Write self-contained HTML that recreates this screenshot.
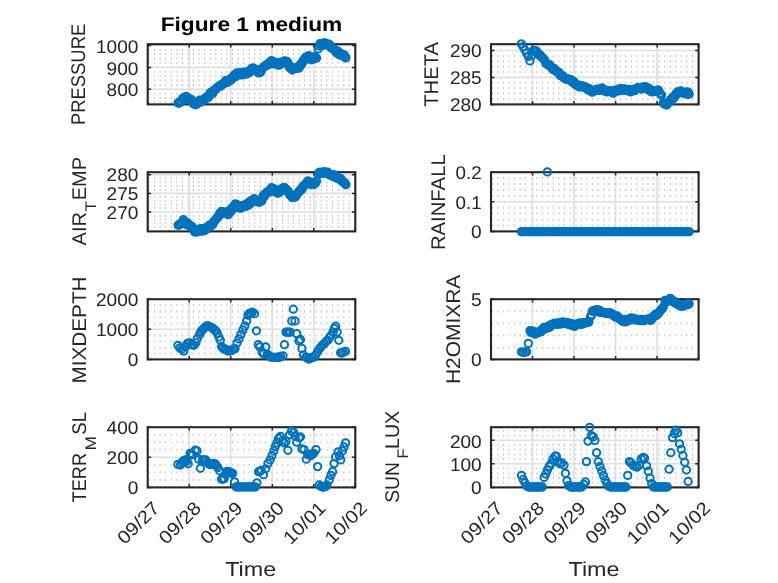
<!DOCTYPE html>
<html><head><meta charset="utf-8"><title>Figure 1 medium</title>
<style>html,body{margin:0;padding:0;background:#fff}body{width:778px;height:583px;overflow:hidden}</style></head>
<body>
<svg width="778" height="583" viewBox="0 0 778 583" style="display:block;will-change:transform;text-rendering:geometricPrecision;font-family:'Liberation Sans',sans-serif">
<rect width="778" height="583" fill="#fff"/>
<path d="M149.1 48.9v2M149.1 53.3v2M149.1 57.6v2M149.1 62.0v2M149.1 70.8v2M149.1 75.2v2M149.1 79.5v2M149.1 83.9v2M149.1 92.7v2M149.1 97.1v2M149.1 101.4v2M154.6 48.9v2M154.6 53.3v2M154.6 57.6v2M154.6 62.0v2M154.6 70.8v2M154.6 75.2v2M154.6 79.5v2M154.6 83.9v2M154.6 92.7v2M154.6 97.1v2M154.6 101.4v2M160.2 48.9v2M160.2 53.3v2M160.2 57.6v2M160.2 62.0v2M160.2 70.8v2M160.2 75.2v2M160.2 79.5v2M160.2 83.9v2M160.2 92.7v2M160.2 97.1v2M160.2 101.4v2M165.7 48.9v2M165.7 53.3v2M165.7 57.6v2M165.7 62.0v2M165.7 70.8v2M165.7 75.2v2M165.7 79.5v2M165.7 83.9v2M165.7 92.7v2M165.7 97.1v2M165.7 101.4v2M171.3 48.9v2M171.3 53.3v2M171.3 57.6v2M171.3 62.0v2M171.3 70.8v2M171.3 75.2v2M171.3 79.5v2M171.3 83.9v2M171.3 92.7v2M171.3 97.1v2M171.3 101.4v2M176.9 48.9v2M176.9 53.3v2M176.9 57.6v2M176.9 62.0v2M176.9 70.8v2M176.9 75.2v2M176.9 79.5v2M176.9 83.9v2M176.9 92.7v2M176.9 97.1v2M176.9 101.4v2M182.4 48.9v2M182.4 53.3v2M182.4 57.6v2M182.4 62.0v2M182.4 70.8v2M182.4 75.2v2M182.4 79.5v2M182.4 83.9v2M182.4 92.7v2M182.4 97.1v2M182.4 101.4v2M188.0 48.9v2M188.0 53.3v2M188.0 57.6v2M188.0 62.0v2M188.0 70.8v2M188.0 75.2v2M188.0 79.5v2M188.0 83.9v2M188.0 92.7v2M188.0 97.1v2M188.0 101.4v2M193.5 48.9v2M193.5 53.3v2M193.5 57.6v2M193.5 62.0v2M193.5 70.8v2M193.5 75.2v2M193.5 79.5v2M193.5 83.9v2M193.5 92.7v2M193.5 97.1v2M193.5 101.4v2M199.1 48.9v2M199.1 53.3v2M199.1 57.6v2M199.1 62.0v2M199.1 70.8v2M199.1 75.2v2M199.1 79.5v2M199.1 83.9v2M199.1 92.7v2M199.1 97.1v2M199.1 101.4v2M204.7 48.9v2M204.7 53.3v2M204.7 57.6v2M204.7 62.0v2M204.7 70.8v2M204.7 75.2v2M204.7 79.5v2M204.7 83.9v2M204.7 92.7v2M204.7 97.1v2M204.7 101.4v2M210.2 48.9v2M210.2 53.3v2M210.2 57.6v2M210.2 62.0v2M210.2 70.8v2M210.2 75.2v2M210.2 79.5v2M210.2 83.9v2M210.2 92.7v2M210.2 97.1v2M210.2 101.4v2M215.8 48.9v2M215.8 53.3v2M215.8 57.6v2M215.8 62.0v2M215.8 70.8v2M215.8 75.2v2M215.8 79.5v2M215.8 83.9v2M215.8 92.7v2M215.8 97.1v2M215.8 101.4v2M221.3 48.9v2M221.3 53.3v2M221.3 57.6v2M221.3 62.0v2M221.3 70.8v2M221.3 75.2v2M221.3 79.5v2M221.3 83.9v2M221.3 92.7v2M221.3 97.1v2M221.3 101.4v2M226.9 48.9v2M226.9 53.3v2M226.9 57.6v2M226.9 62.0v2M226.9 70.8v2M226.9 75.2v2M226.9 79.5v2M226.9 83.9v2M226.9 92.7v2M226.9 97.1v2M226.9 101.4v2M232.5 48.9v2M232.5 53.3v2M232.5 57.6v2M232.5 62.0v2M232.5 70.8v2M232.5 75.2v2M232.5 79.5v2M232.5 83.9v2M232.5 92.7v2M232.5 97.1v2M232.5 101.4v2M238.0 48.9v2M238.0 53.3v2M238.0 57.6v2M238.0 62.0v2M238.0 70.8v2M238.0 75.2v2M238.0 79.5v2M238.0 83.9v2M238.0 92.7v2M238.0 97.1v2M238.0 101.4v2M243.6 48.9v2M243.6 53.3v2M243.6 57.6v2M243.6 62.0v2M243.6 70.8v2M243.6 75.2v2M243.6 79.5v2M243.6 83.9v2M243.6 92.7v2M243.6 97.1v2M243.6 101.4v2M249.1 48.9v2M249.1 53.3v2M249.1 57.6v2M249.1 62.0v2M249.1 70.8v2M249.1 75.2v2M249.1 79.5v2M249.1 83.9v2M249.1 92.7v2M249.1 97.1v2M249.1 101.4v2M254.7 48.9v2M254.7 53.3v2M254.7 57.6v2M254.7 62.0v2M254.7 70.8v2M254.7 75.2v2M254.7 79.5v2M254.7 83.9v2M254.7 92.7v2M254.7 97.1v2M254.7 101.4v2M260.3 48.9v2M260.3 53.3v2M260.3 57.6v2M260.3 62.0v2M260.3 70.8v2M260.3 75.2v2M260.3 79.5v2M260.3 83.9v2M260.3 92.7v2M260.3 97.1v2M260.3 101.4v2M265.8 48.9v2M265.8 53.3v2M265.8 57.6v2M265.8 62.0v2M265.8 70.8v2M265.8 75.2v2M265.8 79.5v2M265.8 83.9v2M265.8 92.7v2M265.8 97.1v2M265.8 101.4v2M271.4 48.9v2M271.4 53.3v2M271.4 57.6v2M271.4 62.0v2M271.4 70.8v2M271.4 75.2v2M271.4 79.5v2M271.4 83.9v2M271.4 92.7v2M271.4 97.1v2M271.4 101.4v2M276.9 48.9v2M276.9 53.3v2M276.9 57.6v2M276.9 62.0v2M276.9 70.8v2M276.9 75.2v2M276.9 79.5v2M276.9 83.9v2M276.9 92.7v2M276.9 97.1v2M276.9 101.4v2M282.5 48.9v2M282.5 53.3v2M282.5 57.6v2M282.5 62.0v2M282.5 70.8v2M282.5 75.2v2M282.5 79.5v2M282.5 83.9v2M282.5 92.7v2M282.5 97.1v2M282.5 101.4v2M288.1 48.9v2M288.1 53.3v2M288.1 57.6v2M288.1 62.0v2M288.1 70.8v2M288.1 75.2v2M288.1 79.5v2M288.1 83.9v2M288.1 92.7v2M288.1 97.1v2M288.1 101.4v2M293.6 48.9v2M293.6 53.3v2M293.6 57.6v2M293.6 62.0v2M293.6 70.8v2M293.6 75.2v2M293.6 79.5v2M293.6 83.9v2M293.6 92.7v2M293.6 97.1v2M293.6 101.4v2M299.2 48.9v2M299.2 53.3v2M299.2 57.6v2M299.2 62.0v2M299.2 70.8v2M299.2 75.2v2M299.2 79.5v2M299.2 83.9v2M299.2 92.7v2M299.2 97.1v2M299.2 101.4v2M304.7 48.9v2M304.7 53.3v2M304.7 57.6v2M304.7 62.0v2M304.7 70.8v2M304.7 75.2v2M304.7 79.5v2M304.7 83.9v2M304.7 92.7v2M304.7 97.1v2M304.7 101.4v2M310.3 48.9v2M310.3 53.3v2M310.3 57.6v2M310.3 62.0v2M310.3 70.8v2M310.3 75.2v2M310.3 79.5v2M310.3 83.9v2M310.3 92.7v2M310.3 97.1v2M310.3 101.4v2M315.9 48.9v2M315.9 53.3v2M315.9 57.6v2M315.9 62.0v2M315.9 70.8v2M315.9 75.2v2M315.9 79.5v2M315.9 83.9v2M315.9 92.7v2M315.9 97.1v2M315.9 101.4v2M321.4 48.9v2M321.4 53.3v2M321.4 57.6v2M321.4 62.0v2M321.4 70.8v2M321.4 75.2v2M321.4 79.5v2M321.4 83.9v2M321.4 92.7v2M321.4 97.1v2M321.4 101.4v2M327.0 48.9v2M327.0 53.3v2M327.0 57.6v2M327.0 62.0v2M327.0 70.8v2M327.0 75.2v2M327.0 79.5v2M327.0 83.9v2M327.0 92.7v2M327.0 97.1v2M327.0 101.4v2M332.5 48.9v2M332.5 53.3v2M332.5 57.6v2M332.5 62.0v2M332.5 70.8v2M332.5 75.2v2M332.5 79.5v2M332.5 83.9v2M332.5 92.7v2M332.5 97.1v2M332.5 101.4v2M338.1 48.9v2M338.1 53.3v2M338.1 57.6v2M338.1 62.0v2M338.1 70.8v2M338.1 75.2v2M338.1 79.5v2M338.1 83.9v2M338.1 92.7v2M338.1 97.1v2M338.1 101.4v2M343.7 48.9v2M343.7 53.3v2M343.7 57.6v2M343.7 62.0v2M343.7 70.8v2M343.7 75.2v2M343.7 79.5v2M343.7 83.9v2M343.7 92.7v2M343.7 97.1v2M343.7 101.4v2M349.2 48.9v2M349.2 53.3v2M349.2 57.6v2M349.2 62.0v2M349.2 70.8v2M349.2 75.2v2M349.2 79.5v2M349.2 83.9v2M349.2 92.7v2M349.2 97.1v2M349.2 101.4v2" stroke="#c6c6c6" stroke-width="1.1" fill="none"/>
<path d="M189.2 44.2V104.4M230.7 44.2V104.4M272.3 44.2V104.4M313.8 44.2V104.4M147.7 45.5H355.3M147.7 67.4H355.3M147.7 89.3H355.3" stroke="#dedede" stroke-width="1.6" fill="none"/>
<rect x="147.7" y="44.2" width="207.6" height="60.2" fill="none" stroke="#262626" stroke-width="2.1"/>
<path d="M147.7 104.4v-3.4M147.7 44.2v3.4M189.2 104.4v-3.4M189.2 44.2v3.4M230.7 104.4v-3.4M230.7 44.2v3.4M272.3 104.4v-3.4M272.3 44.2v3.4M313.8 104.4v-3.4M313.8 44.2v3.4M355.3 104.4v-3.4M355.3 44.2v3.4M147.7 45.5h3.4M355.3 45.5h-3.4M147.7 67.4h3.4M355.3 67.4h-3.4M147.7 89.3h3.4M355.3 89.3h-3.4" stroke="#262626" stroke-width="1.5" fill="none"/>
<text x="138.4" y="53.0" text-anchor="end" font-size="18.4" fill="#262626" textLength="42.4" lengthAdjust="spacingAndGlyphs">1000</text>
<text x="138.4" y="74.7" text-anchor="end" font-size="18.4" fill="#262626" textLength="31.8" lengthAdjust="spacingAndGlyphs">900</text>
<text x="138.4" y="96.4" text-anchor="end" font-size="18.4" fill="#262626" textLength="31.8" lengthAdjust="spacingAndGlyphs">800</text>
<g fill="none" stroke="#0072BD" stroke-width="2.0"><circle cx="178.1" cy="102.9" r="3.65"/><circle cx="179.0" cy="103.1" r="3.65"/><circle cx="179.8" cy="101.9" r="3.65"/><circle cx="180.7" cy="101.9" r="3.65"/><circle cx="181.6" cy="101.2" r="3.65"/><circle cx="182.4" cy="98.8" r="3.65"/><circle cx="183.3" cy="98.0" r="3.65"/><circle cx="184.2" cy="99.7" r="3.65"/><circle cx="185.0" cy="97.3" r="3.65"/><circle cx="185.9" cy="96.5" r="3.65"/><circle cx="186.8" cy="98.1" r="3.65"/><circle cx="187.6" cy="97.3" r="3.65"/><circle cx="188.5" cy="99.1" r="3.65"/><circle cx="189.3" cy="98.8" r="3.65"/><circle cx="190.2" cy="100.1" r="3.65"/><circle cx="191.1" cy="99.4" r="3.65"/><circle cx="191.9" cy="101.6" r="3.65"/><circle cx="192.8" cy="103.1" r="3.65"/><circle cx="193.7" cy="102.8" r="3.65"/><circle cx="194.5" cy="104.3" r="3.65"/><circle cx="195.4" cy="104.8" r="3.65"/><circle cx="196.3" cy="102.4" r="3.65"/><circle cx="197.1" cy="104.0" r="3.65"/><circle cx="198.0" cy="102.9" r="3.65"/><circle cx="198.9" cy="101.5" r="3.65"/><circle cx="199.7" cy="100.1" r="3.65"/><circle cx="200.6" cy="102.1" r="3.65"/><circle cx="201.5" cy="100.4" r="3.65"/><circle cx="202.3" cy="100.6" r="3.65"/><circle cx="203.2" cy="100.5" r="3.65"/><circle cx="204.1" cy="99.4" r="3.65"/><circle cx="204.9" cy="99.5" r="3.65"/><circle cx="205.8" cy="97.4" r="3.65"/><circle cx="206.6" cy="98.1" r="3.65"/><circle cx="207.5" cy="96.4" r="3.65"/><circle cx="208.4" cy="97.1" r="3.65"/><circle cx="209.2" cy="96.2" r="3.65"/><circle cx="210.1" cy="93.1" r="3.65"/><circle cx="211.0" cy="92.4" r="3.65"/><circle cx="211.8" cy="91.9" r="3.65"/><circle cx="212.7" cy="93.4" r="3.65"/><circle cx="213.6" cy="91.0" r="3.65"/><circle cx="214.4" cy="90.8" r="3.65"/><circle cx="215.3" cy="89.1" r="3.65"/><circle cx="216.2" cy="88.9" r="3.65"/><circle cx="217.0" cy="87.8" r="3.65"/><circle cx="217.9" cy="86.9" r="3.65"/><circle cx="218.8" cy="86.8" r="3.65"/><circle cx="219.6" cy="86.0" r="3.65"/><circle cx="220.5" cy="86.1" r="3.65"/><circle cx="221.3" cy="84.6" r="3.65"/><circle cx="222.2" cy="84.6" r="3.65"/><circle cx="223.1" cy="83.6" r="3.65"/><circle cx="223.9" cy="83.6" r="3.65"/><circle cx="224.8" cy="82.4" r="3.65"/><circle cx="225.7" cy="80.5" r="3.65"/><circle cx="226.5" cy="82.3" r="3.65"/><circle cx="227.4" cy="82.3" r="3.65"/><circle cx="228.3" cy="81.8" r="3.65"/><circle cx="229.1" cy="80.4" r="3.65"/><circle cx="230.0" cy="80.5" r="3.65"/><circle cx="230.9" cy="78.3" r="3.65"/><circle cx="231.7" cy="79.4" r="3.65"/><circle cx="232.6" cy="77.9" r="3.65"/><circle cx="233.5" cy="76.4" r="3.65"/><circle cx="234.3" cy="75.0" r="3.65"/><circle cx="235.2" cy="76.6" r="3.65"/><circle cx="236.1" cy="76.3" r="3.65"/><circle cx="236.9" cy="72.9" r="3.65"/><circle cx="237.8" cy="74.9" r="3.65"/><circle cx="238.7" cy="73.7" r="3.65"/><circle cx="239.5" cy="72.9" r="3.65"/><circle cx="240.4" cy="73.2" r="3.65"/><circle cx="241.2" cy="74.6" r="3.65"/><circle cx="242.1" cy="74.9" r="3.65"/><circle cx="243.0" cy="72.3" r="3.65"/><circle cx="243.8" cy="74.0" r="3.65"/><circle cx="244.7" cy="72.2" r="3.65"/><circle cx="245.6" cy="74.2" r="3.65"/><circle cx="246.4" cy="72.4" r="3.65"/><circle cx="247.3" cy="73.5" r="3.65"/><circle cx="248.2" cy="73.3" r="3.65"/><circle cx="249.0" cy="71.3" r="3.65"/><circle cx="249.9" cy="72.2" r="3.65"/><circle cx="250.8" cy="69.6" r="3.65"/><circle cx="251.6" cy="68.3" r="3.65"/><circle cx="252.5" cy="69.3" r="3.65"/><circle cx="253.4" cy="68.0" r="3.65"/><circle cx="254.2" cy="68.9" r="3.65"/><circle cx="255.1" cy="69.9" r="3.65"/><circle cx="255.9" cy="70.9" r="3.65"/><circle cx="256.8" cy="70.0" r="3.65"/><circle cx="257.7" cy="70.0" r="3.65"/><circle cx="258.5" cy="72.9" r="3.65"/><circle cx="259.4" cy="71.6" r="3.65"/><circle cx="260.3" cy="72.5" r="3.65"/><circle cx="261.1" cy="71.3" r="3.65"/><circle cx="262.0" cy="68.7" r="3.65"/><circle cx="262.9" cy="67.9" r="3.65"/><circle cx="263.7" cy="67.0" r="3.65"/><circle cx="264.6" cy="66.3" r="3.65"/><circle cx="265.5" cy="65.6" r="3.65"/><circle cx="266.3" cy="65.0" r="3.65"/><circle cx="267.2" cy="64.6" r="3.65"/><circle cx="268.1" cy="65.0" r="3.65"/><circle cx="268.9" cy="63.1" r="3.65"/><circle cx="269.8" cy="62.3" r="3.65"/><circle cx="270.7" cy="62.6" r="3.65"/><circle cx="271.5" cy="60.6" r="3.65"/><circle cx="272.4" cy="61.3" r="3.65"/><circle cx="273.2" cy="63.8" r="3.65"/><circle cx="274.1" cy="62.9" r="3.65"/><circle cx="275.0" cy="63.4" r="3.65"/><circle cx="275.8" cy="62.3" r="3.65"/><circle cx="276.7" cy="64.0" r="3.65"/><circle cx="277.6" cy="65.0" r="3.65"/><circle cx="278.4" cy="63.8" r="3.65"/><circle cx="279.3" cy="65.0" r="3.65"/><circle cx="280.2" cy="64.5" r="3.65"/><circle cx="281.0" cy="62.2" r="3.65"/><circle cx="281.9" cy="63.3" r="3.65"/><circle cx="282.8" cy="62.3" r="3.65"/><circle cx="283.6" cy="62.4" r="3.65"/><circle cx="284.5" cy="60.8" r="3.65"/><circle cx="285.4" cy="61.3" r="3.65"/><circle cx="286.2" cy="62.5" r="3.65"/><circle cx="287.1" cy="61.5" r="3.65"/><circle cx="288.0" cy="62.8" r="3.65"/><circle cx="288.8" cy="65.7" r="3.65"/><circle cx="289.7" cy="67.7" r="3.65"/><circle cx="290.6" cy="66.7" r="3.65"/><circle cx="291.4" cy="68.4" r="3.65"/><circle cx="292.3" cy="70.0" r="3.65"/><circle cx="293.1" cy="68.8" r="3.65"/><circle cx="294.0" cy="68.7" r="3.65"/><circle cx="294.9" cy="68.2" r="3.65"/><circle cx="295.7" cy="68.1" r="3.65"/><circle cx="296.6" cy="68.4" r="3.65"/><circle cx="297.5" cy="67.2" r="3.65"/><circle cx="298.3" cy="67.1" r="3.65"/><circle cx="299.2" cy="68.0" r="3.65"/><circle cx="300.1" cy="64.5" r="3.65"/><circle cx="300.9" cy="64.8" r="3.65"/><circle cx="301.8" cy="64.1" r="3.65"/><circle cx="302.7" cy="61.5" r="3.65"/><circle cx="303.5" cy="60.0" r="3.65"/><circle cx="304.4" cy="60.4" r="3.65"/><circle cx="305.3" cy="57.9" r="3.65"/><circle cx="306.1" cy="56.9" r="3.65"/><circle cx="307.0" cy="56.8" r="3.65"/><circle cx="307.9" cy="56.8" r="3.65"/><circle cx="308.7" cy="55.7" r="3.65"/><circle cx="309.6" cy="57.0" r="3.65"/><circle cx="310.4" cy="57.7" r="3.65"/><circle cx="311.3" cy="59.8" r="3.65"/><circle cx="312.2" cy="58.3" r="3.65"/><circle cx="313.0" cy="59.2" r="3.65"/><circle cx="313.9" cy="56.9" r="3.65"/><circle cx="314.8" cy="57.0" r="3.65"/><circle cx="315.6" cy="57.7" r="3.65"/><circle cx="316.5" cy="58.1" r="3.65"/><circle cx="318.2" cy="48.9" r="3.65"/><circle cx="319.1" cy="46.0" r="3.65"/><circle cx="320.0" cy="43.6" r="3.65"/><circle cx="320.8" cy="44.6" r="3.65"/><circle cx="321.7" cy="43.4" r="3.65"/><circle cx="322.6" cy="45.1" r="3.65"/><circle cx="323.4" cy="45.1" r="3.65"/><circle cx="324.3" cy="42.9" r="3.65"/><circle cx="325.1" cy="43.1" r="3.65"/><circle cx="326.0" cy="44.5" r="3.65"/><circle cx="326.9" cy="43.8" r="3.65"/><circle cx="327.7" cy="45.1" r="3.65"/><circle cx="328.6" cy="44.4" r="3.65"/><circle cx="329.5" cy="44.5" r="3.65"/><circle cx="330.3" cy="45.8" r="3.65"/><circle cx="331.2" cy="48.0" r="3.65"/><circle cx="332.1" cy="47.2" r="3.65"/><circle cx="332.9" cy="48.2" r="3.65"/><circle cx="333.8" cy="49.2" r="3.65"/><circle cx="334.7" cy="49.9" r="3.65"/><circle cx="335.5" cy="50.6" r="3.65"/><circle cx="336.4" cy="52.9" r="3.65"/><circle cx="337.3" cy="51.4" r="3.65"/><circle cx="338.1" cy="51.2" r="3.65"/><circle cx="339.0" cy="54.4" r="3.65"/><circle cx="339.9" cy="54.5" r="3.65"/><circle cx="340.7" cy="55.1" r="3.65"/><circle cx="341.6" cy="53.8" r="3.65"/><circle cx="342.5" cy="55.7" r="3.65"/><circle cx="343.3" cy="56.2" r="3.65"/><circle cx="344.2" cy="54.8" r="3.65"/><circle cx="345.0" cy="57.0" r="3.65"/><circle cx="345.9" cy="57.9" r="3.65"/></g>
<path d="M492.4 54.9v2M492.4 60.3v2M492.4 65.6v2M492.4 71.0v2M492.4 81.8v2M492.4 87.2v2M492.4 92.5v2M492.4 97.9v2M497.9 54.9v2M497.9 60.3v2M497.9 65.6v2M497.9 71.0v2M497.9 81.8v2M497.9 87.2v2M497.9 92.5v2M497.9 97.9v2M503.5 54.9v2M503.5 60.3v2M503.5 65.6v2M503.5 71.0v2M503.5 81.8v2M503.5 87.2v2M503.5 92.5v2M503.5 97.9v2M509.0 54.9v2M509.0 60.3v2M509.0 65.6v2M509.0 71.0v2M509.0 81.8v2M509.0 87.2v2M509.0 92.5v2M509.0 97.9v2M514.6 54.9v2M514.6 60.3v2M514.6 65.6v2M514.6 71.0v2M514.6 81.8v2M514.6 87.2v2M514.6 92.5v2M514.6 97.9v2M520.2 54.9v2M520.2 60.3v2M520.2 65.6v2M520.2 71.0v2M520.2 81.8v2M520.2 87.2v2M520.2 92.5v2M520.2 97.9v2M525.7 54.9v2M525.7 60.3v2M525.7 65.6v2M525.7 71.0v2M525.7 81.8v2M525.7 87.2v2M525.7 92.5v2M525.7 97.9v2M531.3 54.9v2M531.3 60.3v2M531.3 65.6v2M531.3 71.0v2M531.3 81.8v2M531.3 87.2v2M531.3 92.5v2M531.3 97.9v2M536.8 54.9v2M536.8 60.3v2M536.8 65.6v2M536.8 71.0v2M536.8 81.8v2M536.8 87.2v2M536.8 92.5v2M536.8 97.9v2M542.4 54.9v2M542.4 60.3v2M542.4 65.6v2M542.4 71.0v2M542.4 81.8v2M542.4 87.2v2M542.4 92.5v2M542.4 97.9v2M548.0 54.9v2M548.0 60.3v2M548.0 65.6v2M548.0 71.0v2M548.0 81.8v2M548.0 87.2v2M548.0 92.5v2M548.0 97.9v2M553.5 54.9v2M553.5 60.3v2M553.5 65.6v2M553.5 71.0v2M553.5 81.8v2M553.5 87.2v2M553.5 92.5v2M553.5 97.9v2M559.1 54.9v2M559.1 60.3v2M559.1 65.6v2M559.1 71.0v2M559.1 81.8v2M559.1 87.2v2M559.1 92.5v2M559.1 97.9v2M564.6 54.9v2M564.6 60.3v2M564.6 65.6v2M564.6 71.0v2M564.6 81.8v2M564.6 87.2v2M564.6 92.5v2M564.6 97.9v2M570.2 54.9v2M570.2 60.3v2M570.2 65.6v2M570.2 71.0v2M570.2 81.8v2M570.2 87.2v2M570.2 92.5v2M570.2 97.9v2M575.8 54.9v2M575.8 60.3v2M575.8 65.6v2M575.8 71.0v2M575.8 81.8v2M575.8 87.2v2M575.8 92.5v2M575.8 97.9v2M581.3 54.9v2M581.3 60.3v2M581.3 65.6v2M581.3 71.0v2M581.3 81.8v2M581.3 87.2v2M581.3 92.5v2M581.3 97.9v2M586.9 54.9v2M586.9 60.3v2M586.9 65.6v2M586.9 71.0v2M586.9 81.8v2M586.9 87.2v2M586.9 92.5v2M586.9 97.9v2M592.4 54.9v2M592.4 60.3v2M592.4 65.6v2M592.4 71.0v2M592.4 81.8v2M592.4 87.2v2M592.4 92.5v2M592.4 97.9v2M598.0 54.9v2M598.0 60.3v2M598.0 65.6v2M598.0 71.0v2M598.0 81.8v2M598.0 87.2v2M598.0 92.5v2M598.0 97.9v2M603.6 54.9v2M603.6 60.3v2M603.6 65.6v2M603.6 71.0v2M603.6 81.8v2M603.6 87.2v2M603.6 92.5v2M603.6 97.9v2M609.1 54.9v2M609.1 60.3v2M609.1 65.6v2M609.1 71.0v2M609.1 81.8v2M609.1 87.2v2M609.1 92.5v2M609.1 97.9v2M614.7 54.9v2M614.7 60.3v2M614.7 65.6v2M614.7 71.0v2M614.7 81.8v2M614.7 87.2v2M614.7 92.5v2M614.7 97.9v2M620.2 54.9v2M620.2 60.3v2M620.2 65.6v2M620.2 71.0v2M620.2 81.8v2M620.2 87.2v2M620.2 92.5v2M620.2 97.9v2M625.8 54.9v2M625.8 60.3v2M625.8 65.6v2M625.8 71.0v2M625.8 81.8v2M625.8 87.2v2M625.8 92.5v2M625.8 97.9v2M631.4 54.9v2M631.4 60.3v2M631.4 65.6v2M631.4 71.0v2M631.4 81.8v2M631.4 87.2v2M631.4 92.5v2M631.4 97.9v2M636.9 54.9v2M636.9 60.3v2M636.9 65.6v2M636.9 71.0v2M636.9 81.8v2M636.9 87.2v2M636.9 92.5v2M636.9 97.9v2M642.5 54.9v2M642.5 60.3v2M642.5 65.6v2M642.5 71.0v2M642.5 81.8v2M642.5 87.2v2M642.5 92.5v2M642.5 97.9v2M648.0 54.9v2M648.0 60.3v2M648.0 65.6v2M648.0 71.0v2M648.0 81.8v2M648.0 87.2v2M648.0 92.5v2M648.0 97.9v2M653.6 54.9v2M653.6 60.3v2M653.6 65.6v2M653.6 71.0v2M653.6 81.8v2M653.6 87.2v2M653.6 92.5v2M653.6 97.9v2M659.2 54.9v2M659.2 60.3v2M659.2 65.6v2M659.2 71.0v2M659.2 81.8v2M659.2 87.2v2M659.2 92.5v2M659.2 97.9v2M664.7 54.9v2M664.7 60.3v2M664.7 65.6v2M664.7 71.0v2M664.7 81.8v2M664.7 87.2v2M664.7 92.5v2M664.7 97.9v2M670.3 54.9v2M670.3 60.3v2M670.3 65.6v2M670.3 71.0v2M670.3 81.8v2M670.3 87.2v2M670.3 92.5v2M670.3 97.9v2M675.8 54.9v2M675.8 60.3v2M675.8 65.6v2M675.8 71.0v2M675.8 81.8v2M675.8 87.2v2M675.8 92.5v2M675.8 97.9v2M681.4 54.9v2M681.4 60.3v2M681.4 65.6v2M681.4 71.0v2M681.4 81.8v2M681.4 87.2v2M681.4 92.5v2M681.4 97.9v2M687.0 54.9v2M687.0 60.3v2M687.0 65.6v2M687.0 71.0v2M687.0 81.8v2M687.0 87.2v2M687.0 92.5v2M687.0 97.9v2M692.5 54.9v2M692.5 60.3v2M692.5 65.6v2M692.5 71.0v2M692.5 81.8v2M692.5 87.2v2M692.5 92.5v2M692.5 97.9v2" stroke="#c6c6c6" stroke-width="1.1" fill="none"/>
<path d="M532.5 44.2V104.4M574.0 44.2V104.4M615.6 44.2V104.4M657.1 44.2V104.4M491.0 50.5H698.6M491.0 77.4H698.6" stroke="#dedede" stroke-width="1.6" fill="none"/>
<rect x="491.0" y="44.2" width="207.6" height="60.2" fill="none" stroke="#262626" stroke-width="2.1"/>
<path d="M491.0 104.4v-3.4M491.0 44.2v3.4M532.5 104.4v-3.4M532.5 44.2v3.4M574.0 104.4v-3.4M574.0 44.2v3.4M615.6 104.4v-3.4M615.6 44.2v3.4M657.1 104.4v-3.4M657.1 44.2v3.4M698.6 104.4v-3.4M698.6 44.2v3.4M491.0 50.5h3.4M698.6 50.5h-3.4M491.0 77.4h3.4M698.6 77.4h-3.4M491.0 104.4h3.4M698.6 104.4h-3.4" stroke="#262626" stroke-width="1.5" fill="none"/>
<text x="481.7" y="57.4" text-anchor="end" font-size="18.4" fill="#262626" textLength="31.8" lengthAdjust="spacingAndGlyphs">290</text>
<text x="481.7" y="84.3" text-anchor="end" font-size="18.4" fill="#262626" textLength="31.8" lengthAdjust="spacingAndGlyphs">285</text>
<text x="481.7" y="111.3" text-anchor="end" font-size="18.4" fill="#262626" textLength="31.8" lengthAdjust="spacingAndGlyphs">280</text>
<g fill="none" stroke="#0072BD" stroke-width="2.0"><circle cx="521.4" cy="43.9" r="3.65"/><circle cx="523.1" cy="46.7" r="3.65"/><circle cx="524.9" cy="50.0" r="3.65"/><circle cx="526.6" cy="53.2" r="3.65"/><circle cx="528.3" cy="56.4" r="3.65"/><circle cx="530.0" cy="60.9" r="3.65"/><circle cx="531.8" cy="55.5" r="3.65"/><circle cx="533.5" cy="50.3" r="3.65"/><circle cx="534.4" cy="51.1" r="3.65"/><circle cx="535.2" cy="50.8" r="3.65"/><circle cx="536.1" cy="50.8" r="3.65"/><circle cx="537.0" cy="51.7" r="3.65"/><circle cx="537.8" cy="53.8" r="3.65"/><circle cx="538.7" cy="54.5" r="3.65"/><circle cx="539.6" cy="55.3" r="3.65"/><circle cx="540.4" cy="55.1" r="3.65"/><circle cx="541.3" cy="56.9" r="3.65"/><circle cx="542.2" cy="57.4" r="3.65"/><circle cx="543.0" cy="58.2" r="3.65"/><circle cx="543.9" cy="59.2" r="3.65"/><circle cx="544.8" cy="60.5" r="3.65"/><circle cx="545.6" cy="63.1" r="3.65"/><circle cx="546.5" cy="63.6" r="3.65"/><circle cx="547.4" cy="64.3" r="3.65"/><circle cx="548.2" cy="65.0" r="3.65"/><circle cx="549.1" cy="64.4" r="3.65"/><circle cx="549.9" cy="65.4" r="3.65"/><circle cx="550.8" cy="66.8" r="3.65"/><circle cx="551.7" cy="67.8" r="3.65"/><circle cx="552.5" cy="68.8" r="3.65"/><circle cx="553.4" cy="69.6" r="3.65"/><circle cx="554.3" cy="68.5" r="3.65"/><circle cx="555.1" cy="70.4" r="3.65"/><circle cx="556.0" cy="71.3" r="3.65"/><circle cx="556.9" cy="71.6" r="3.65"/><circle cx="557.7" cy="71.6" r="3.65"/><circle cx="558.6" cy="73.0" r="3.65"/><circle cx="559.5" cy="72.9" r="3.65"/><circle cx="560.3" cy="75.4" r="3.65"/><circle cx="561.2" cy="75.9" r="3.65"/><circle cx="562.1" cy="75.8" r="3.65"/><circle cx="562.9" cy="75.9" r="3.65"/><circle cx="563.8" cy="77.9" r="3.65"/><circle cx="564.6" cy="77.8" r="3.65"/><circle cx="565.5" cy="78.8" r="3.65"/><circle cx="566.4" cy="79.2" r="3.65"/><circle cx="567.2" cy="78.8" r="3.65"/><circle cx="568.1" cy="79.0" r="3.65"/><circle cx="569.0" cy="79.8" r="3.65"/><circle cx="569.8" cy="79.8" r="3.65"/><circle cx="570.7" cy="79.7" r="3.65"/><circle cx="571.6" cy="80.4" r="3.65"/><circle cx="572.4" cy="82.2" r="3.65"/><circle cx="573.3" cy="81.3" r="3.65"/><circle cx="574.2" cy="82.1" r="3.65"/><circle cx="575.0" cy="84.1" r="3.65"/><circle cx="575.9" cy="84.1" r="3.65"/><circle cx="576.8" cy="85.4" r="3.65"/><circle cx="577.6" cy="85.4" r="3.65"/><circle cx="578.5" cy="85.4" r="3.65"/><circle cx="579.4" cy="87.0" r="3.65"/><circle cx="580.2" cy="85.4" r="3.65"/><circle cx="581.1" cy="86.1" r="3.65"/><circle cx="581.9" cy="85.8" r="3.65"/><circle cx="582.8" cy="87.0" r="3.65"/><circle cx="583.7" cy="86.4" r="3.65"/><circle cx="584.5" cy="86.8" r="3.65"/><circle cx="585.4" cy="87.8" r="3.65"/><circle cx="586.3" cy="87.5" r="3.65"/><circle cx="587.1" cy="88.6" r="3.65"/><circle cx="588.0" cy="89.9" r="3.65"/><circle cx="588.9" cy="88.7" r="3.65"/><circle cx="589.7" cy="89.1" r="3.65"/><circle cx="590.6" cy="90.1" r="3.65"/><circle cx="591.5" cy="91.8" r="3.65"/><circle cx="592.3" cy="92.1" r="3.65"/><circle cx="593.2" cy="90.9" r="3.65"/><circle cx="594.1" cy="90.8" r="3.65"/><circle cx="594.9" cy="90.1" r="3.65"/><circle cx="595.8" cy="90.4" r="3.65"/><circle cx="596.7" cy="89.2" r="3.65"/><circle cx="597.5" cy="90.3" r="3.65"/><circle cx="598.4" cy="90.4" r="3.65"/><circle cx="599.2" cy="90.2" r="3.65"/><circle cx="600.1" cy="89.4" r="3.65"/><circle cx="601.0" cy="89.6" r="3.65"/><circle cx="601.8" cy="87.9" r="3.65"/><circle cx="602.7" cy="88.9" r="3.65"/><circle cx="603.6" cy="90.7" r="3.65"/><circle cx="604.4" cy="90.7" r="3.65"/><circle cx="605.3" cy="90.2" r="3.65"/><circle cx="606.2" cy="91.8" r="3.65"/><circle cx="607.0" cy="91.2" r="3.65"/><circle cx="607.9" cy="91.8" r="3.65"/><circle cx="608.8" cy="90.8" r="3.65"/><circle cx="609.6" cy="90.8" r="3.65"/><circle cx="610.5" cy="91.5" r="3.65"/><circle cx="611.4" cy="91.0" r="3.65"/><circle cx="612.2" cy="91.7" r="3.65"/><circle cx="613.1" cy="93.1" r="3.65"/><circle cx="614.0" cy="91.4" r="3.65"/><circle cx="614.8" cy="90.4" r="3.65"/><circle cx="615.7" cy="90.1" r="3.65"/><circle cx="616.5" cy="90.1" r="3.65"/><circle cx="617.4" cy="91.1" r="3.65"/><circle cx="618.3" cy="89.8" r="3.65"/><circle cx="619.1" cy="89.4" r="3.65"/><circle cx="620.0" cy="88.6" r="3.65"/><circle cx="620.9" cy="90.7" r="3.65"/><circle cx="621.7" cy="89.5" r="3.65"/><circle cx="622.6" cy="89.2" r="3.65"/><circle cx="623.5" cy="89.0" r="3.65"/><circle cx="624.3" cy="89.1" r="3.65"/><circle cx="625.2" cy="89.4" r="3.65"/><circle cx="626.1" cy="90.6" r="3.65"/><circle cx="626.9" cy="89.6" r="3.65"/><circle cx="627.8" cy="89.5" r="3.65"/><circle cx="628.7" cy="90.6" r="3.65"/><circle cx="629.5" cy="90.1" r="3.65"/><circle cx="630.4" cy="91.9" r="3.65"/><circle cx="631.3" cy="89.7" r="3.65"/><circle cx="632.1" cy="90.4" r="3.65"/><circle cx="633.0" cy="90.7" r="3.65"/><circle cx="633.9" cy="89.6" r="3.65"/><circle cx="634.7" cy="90.6" r="3.65"/><circle cx="635.6" cy="89.3" r="3.65"/><circle cx="636.4" cy="88.5" r="3.65"/><circle cx="637.3" cy="88.6" r="3.65"/><circle cx="638.2" cy="87.5" r="3.65"/><circle cx="639.0" cy="88.1" r="3.65"/><circle cx="639.9" cy="87.7" r="3.65"/><circle cx="640.8" cy="89.0" r="3.65"/><circle cx="641.6" cy="88.8" r="3.65"/><circle cx="642.5" cy="87.9" r="3.65"/><circle cx="643.4" cy="86.8" r="3.65"/><circle cx="644.2" cy="87.2" r="3.65"/><circle cx="645.1" cy="87.1" r="3.65"/><circle cx="646.0" cy="87.0" r="3.65"/><circle cx="646.8" cy="87.5" r="3.65"/><circle cx="647.7" cy="89.5" r="3.65"/><circle cx="648.6" cy="88.4" r="3.65"/><circle cx="649.4" cy="88.7" r="3.65"/><circle cx="650.3" cy="91.2" r="3.65"/><circle cx="651.1" cy="90.9" r="3.65"/><circle cx="652.0" cy="91.9" r="3.65"/><circle cx="652.9" cy="90.6" r="3.65"/><circle cx="653.7" cy="91.7" r="3.65"/><circle cx="654.6" cy="91.1" r="3.65"/><circle cx="655.5" cy="91.4" r="3.65"/><circle cx="656.3" cy="91.3" r="3.65"/><circle cx="657.2" cy="90.8" r="3.65"/><circle cx="658.1" cy="89.9" r="3.65"/><circle cx="658.9" cy="91.0" r="3.65"/><circle cx="659.8" cy="93.3" r="3.65"/><circle cx="660.7" cy="94.2" r="3.65"/><circle cx="661.5" cy="95.0" r="3.65"/><circle cx="663.3" cy="102.7" r="3.65"/><circle cx="664.1" cy="103.7" r="3.65"/><circle cx="665.0" cy="104.4" r="3.65"/><circle cx="665.9" cy="104.3" r="3.65"/><circle cx="666.7" cy="105.0" r="3.65"/><circle cx="667.6" cy="103.4" r="3.65"/><circle cx="668.5" cy="102.7" r="3.65"/><circle cx="669.3" cy="101.9" r="3.65"/><circle cx="670.2" cy="100.0" r="3.65"/><circle cx="671.0" cy="100.6" r="3.65"/><circle cx="671.9" cy="99.8" r="3.65"/><circle cx="672.8" cy="97.0" r="3.65"/><circle cx="673.6" cy="98.1" r="3.65"/><circle cx="674.5" cy="97.2" r="3.65"/><circle cx="675.4" cy="95.7" r="3.65"/><circle cx="676.2" cy="93.3" r="3.65"/><circle cx="677.1" cy="94.3" r="3.65"/><circle cx="678.0" cy="91.6" r="3.65"/><circle cx="678.8" cy="92.5" r="3.65"/><circle cx="679.7" cy="92.1" r="3.65"/><circle cx="680.6" cy="91.0" r="3.65"/><circle cx="681.4" cy="91.4" r="3.65"/><circle cx="682.3" cy="92.7" r="3.65"/><circle cx="683.2" cy="92.7" r="3.65"/><circle cx="684.0" cy="93.3" r="3.65"/><circle cx="684.9" cy="93.8" r="3.65"/><circle cx="685.8" cy="92.4" r="3.65"/><circle cx="686.6" cy="92.0" r="3.65"/><circle cx="687.5" cy="94.1" r="3.65"/><circle cx="688.3" cy="92.2" r="3.65"/><circle cx="689.2" cy="94.2" r="3.65"/></g>
<path d="M149.1 177.5v2M149.1 181.2v2M149.1 185.0v2M149.1 188.7v2M149.1 196.1v2M149.1 199.8v2M149.1 203.6v2M149.1 207.3v2M149.1 214.7v2M149.1 218.4v2M149.1 222.2v2M149.1 225.9v2M154.6 177.5v2M154.6 181.2v2M154.6 185.0v2M154.6 188.7v2M154.6 196.1v2M154.6 199.8v2M154.6 203.6v2M154.6 207.3v2M154.6 214.7v2M154.6 218.4v2M154.6 222.2v2M154.6 225.9v2M160.2 177.5v2M160.2 181.2v2M160.2 185.0v2M160.2 188.7v2M160.2 196.1v2M160.2 199.8v2M160.2 203.6v2M160.2 207.3v2M160.2 214.7v2M160.2 218.4v2M160.2 222.2v2M160.2 225.9v2M165.7 177.5v2M165.7 181.2v2M165.7 185.0v2M165.7 188.7v2M165.7 196.1v2M165.7 199.8v2M165.7 203.6v2M165.7 207.3v2M165.7 214.7v2M165.7 218.4v2M165.7 222.2v2M165.7 225.9v2M171.3 177.5v2M171.3 181.2v2M171.3 185.0v2M171.3 188.7v2M171.3 196.1v2M171.3 199.8v2M171.3 203.6v2M171.3 207.3v2M171.3 214.7v2M171.3 218.4v2M171.3 222.2v2M171.3 225.9v2M176.9 177.5v2M176.9 181.2v2M176.9 185.0v2M176.9 188.7v2M176.9 196.1v2M176.9 199.8v2M176.9 203.6v2M176.9 207.3v2M176.9 214.7v2M176.9 218.4v2M176.9 222.2v2M176.9 225.9v2M182.4 177.5v2M182.4 181.2v2M182.4 185.0v2M182.4 188.7v2M182.4 196.1v2M182.4 199.8v2M182.4 203.6v2M182.4 207.3v2M182.4 214.7v2M182.4 218.4v2M182.4 222.2v2M182.4 225.9v2M188.0 177.5v2M188.0 181.2v2M188.0 185.0v2M188.0 188.7v2M188.0 196.1v2M188.0 199.8v2M188.0 203.6v2M188.0 207.3v2M188.0 214.7v2M188.0 218.4v2M188.0 222.2v2M188.0 225.9v2M193.5 177.5v2M193.5 181.2v2M193.5 185.0v2M193.5 188.7v2M193.5 196.1v2M193.5 199.8v2M193.5 203.6v2M193.5 207.3v2M193.5 214.7v2M193.5 218.4v2M193.5 222.2v2M193.5 225.9v2M199.1 177.5v2M199.1 181.2v2M199.1 185.0v2M199.1 188.7v2M199.1 196.1v2M199.1 199.8v2M199.1 203.6v2M199.1 207.3v2M199.1 214.7v2M199.1 218.4v2M199.1 222.2v2M199.1 225.9v2M204.7 177.5v2M204.7 181.2v2M204.7 185.0v2M204.7 188.7v2M204.7 196.1v2M204.7 199.8v2M204.7 203.6v2M204.7 207.3v2M204.7 214.7v2M204.7 218.4v2M204.7 222.2v2M204.7 225.9v2M210.2 177.5v2M210.2 181.2v2M210.2 185.0v2M210.2 188.7v2M210.2 196.1v2M210.2 199.8v2M210.2 203.6v2M210.2 207.3v2M210.2 214.7v2M210.2 218.4v2M210.2 222.2v2M210.2 225.9v2M215.8 177.5v2M215.8 181.2v2M215.8 185.0v2M215.8 188.7v2M215.8 196.1v2M215.8 199.8v2M215.8 203.6v2M215.8 207.3v2M215.8 214.7v2M215.8 218.4v2M215.8 222.2v2M215.8 225.9v2M221.3 177.5v2M221.3 181.2v2M221.3 185.0v2M221.3 188.7v2M221.3 196.1v2M221.3 199.8v2M221.3 203.6v2M221.3 207.3v2M221.3 214.7v2M221.3 218.4v2M221.3 222.2v2M221.3 225.9v2M226.9 177.5v2M226.9 181.2v2M226.9 185.0v2M226.9 188.7v2M226.9 196.1v2M226.9 199.8v2M226.9 203.6v2M226.9 207.3v2M226.9 214.7v2M226.9 218.4v2M226.9 222.2v2M226.9 225.9v2M232.5 177.5v2M232.5 181.2v2M232.5 185.0v2M232.5 188.7v2M232.5 196.1v2M232.5 199.8v2M232.5 203.6v2M232.5 207.3v2M232.5 214.7v2M232.5 218.4v2M232.5 222.2v2M232.5 225.9v2M238.0 177.5v2M238.0 181.2v2M238.0 185.0v2M238.0 188.7v2M238.0 196.1v2M238.0 199.8v2M238.0 203.6v2M238.0 207.3v2M238.0 214.7v2M238.0 218.4v2M238.0 222.2v2M238.0 225.9v2M243.6 177.5v2M243.6 181.2v2M243.6 185.0v2M243.6 188.7v2M243.6 196.1v2M243.6 199.8v2M243.6 203.6v2M243.6 207.3v2M243.6 214.7v2M243.6 218.4v2M243.6 222.2v2M243.6 225.9v2M249.1 177.5v2M249.1 181.2v2M249.1 185.0v2M249.1 188.7v2M249.1 196.1v2M249.1 199.8v2M249.1 203.6v2M249.1 207.3v2M249.1 214.7v2M249.1 218.4v2M249.1 222.2v2M249.1 225.9v2M254.7 177.5v2M254.7 181.2v2M254.7 185.0v2M254.7 188.7v2M254.7 196.1v2M254.7 199.8v2M254.7 203.6v2M254.7 207.3v2M254.7 214.7v2M254.7 218.4v2M254.7 222.2v2M254.7 225.9v2M260.3 177.5v2M260.3 181.2v2M260.3 185.0v2M260.3 188.7v2M260.3 196.1v2M260.3 199.8v2M260.3 203.6v2M260.3 207.3v2M260.3 214.7v2M260.3 218.4v2M260.3 222.2v2M260.3 225.9v2M265.8 177.5v2M265.8 181.2v2M265.8 185.0v2M265.8 188.7v2M265.8 196.1v2M265.8 199.8v2M265.8 203.6v2M265.8 207.3v2M265.8 214.7v2M265.8 218.4v2M265.8 222.2v2M265.8 225.9v2M271.4 177.5v2M271.4 181.2v2M271.4 185.0v2M271.4 188.7v2M271.4 196.1v2M271.4 199.8v2M271.4 203.6v2M271.4 207.3v2M271.4 214.7v2M271.4 218.4v2M271.4 222.2v2M271.4 225.9v2M276.9 177.5v2M276.9 181.2v2M276.9 185.0v2M276.9 188.7v2M276.9 196.1v2M276.9 199.8v2M276.9 203.6v2M276.9 207.3v2M276.9 214.7v2M276.9 218.4v2M276.9 222.2v2M276.9 225.9v2M282.5 177.5v2M282.5 181.2v2M282.5 185.0v2M282.5 188.7v2M282.5 196.1v2M282.5 199.8v2M282.5 203.6v2M282.5 207.3v2M282.5 214.7v2M282.5 218.4v2M282.5 222.2v2M282.5 225.9v2M288.1 177.5v2M288.1 181.2v2M288.1 185.0v2M288.1 188.7v2M288.1 196.1v2M288.1 199.8v2M288.1 203.6v2M288.1 207.3v2M288.1 214.7v2M288.1 218.4v2M288.1 222.2v2M288.1 225.9v2M293.6 177.5v2M293.6 181.2v2M293.6 185.0v2M293.6 188.7v2M293.6 196.1v2M293.6 199.8v2M293.6 203.6v2M293.6 207.3v2M293.6 214.7v2M293.6 218.4v2M293.6 222.2v2M293.6 225.9v2M299.2 177.5v2M299.2 181.2v2M299.2 185.0v2M299.2 188.7v2M299.2 196.1v2M299.2 199.8v2M299.2 203.6v2M299.2 207.3v2M299.2 214.7v2M299.2 218.4v2M299.2 222.2v2M299.2 225.9v2M304.7 177.5v2M304.7 181.2v2M304.7 185.0v2M304.7 188.7v2M304.7 196.1v2M304.7 199.8v2M304.7 203.6v2M304.7 207.3v2M304.7 214.7v2M304.7 218.4v2M304.7 222.2v2M304.7 225.9v2M310.3 177.5v2M310.3 181.2v2M310.3 185.0v2M310.3 188.7v2M310.3 196.1v2M310.3 199.8v2M310.3 203.6v2M310.3 207.3v2M310.3 214.7v2M310.3 218.4v2M310.3 222.2v2M310.3 225.9v2M315.9 177.5v2M315.9 181.2v2M315.9 185.0v2M315.9 188.7v2M315.9 196.1v2M315.9 199.8v2M315.9 203.6v2M315.9 207.3v2M315.9 214.7v2M315.9 218.4v2M315.9 222.2v2M315.9 225.9v2M321.4 177.5v2M321.4 181.2v2M321.4 185.0v2M321.4 188.7v2M321.4 196.1v2M321.4 199.8v2M321.4 203.6v2M321.4 207.3v2M321.4 214.7v2M321.4 218.4v2M321.4 222.2v2M321.4 225.9v2M327.0 177.5v2M327.0 181.2v2M327.0 185.0v2M327.0 188.7v2M327.0 196.1v2M327.0 199.8v2M327.0 203.6v2M327.0 207.3v2M327.0 214.7v2M327.0 218.4v2M327.0 222.2v2M327.0 225.9v2M332.5 177.5v2M332.5 181.2v2M332.5 185.0v2M332.5 188.7v2M332.5 196.1v2M332.5 199.8v2M332.5 203.6v2M332.5 207.3v2M332.5 214.7v2M332.5 218.4v2M332.5 222.2v2M332.5 225.9v2M338.1 177.5v2M338.1 181.2v2M338.1 185.0v2M338.1 188.7v2M338.1 196.1v2M338.1 199.8v2M338.1 203.6v2M338.1 207.3v2M338.1 214.7v2M338.1 218.4v2M338.1 222.2v2M338.1 225.9v2M343.7 177.5v2M343.7 181.2v2M343.7 185.0v2M343.7 188.7v2M343.7 196.1v2M343.7 199.8v2M343.7 203.6v2M343.7 207.3v2M343.7 214.7v2M343.7 218.4v2M343.7 222.2v2M343.7 225.9v2M349.2 177.5v2M349.2 181.2v2M349.2 185.0v2M349.2 188.7v2M349.2 196.1v2M349.2 199.8v2M349.2 203.6v2M349.2 207.3v2M349.2 214.7v2M349.2 218.4v2M349.2 222.2v2M349.2 225.9v2" stroke="#c6c6c6" stroke-width="1.1" fill="none"/>
<path d="M189.2 172.2V231.4M230.7 172.2V231.4M272.3 172.2V231.4M313.8 172.2V231.4M147.7 174.8H355.3M147.7 193.4H355.3M147.7 212.0H355.3" stroke="#dedede" stroke-width="1.6" fill="none"/>
<rect x="147.7" y="172.2" width="207.6" height="59.2" fill="none" stroke="#262626" stroke-width="2.1"/>
<path d="M147.7 231.4v-3.4M147.7 172.2v3.4M189.2 231.4v-3.4M189.2 172.2v3.4M230.7 231.4v-3.4M230.7 172.2v3.4M272.3 231.4v-3.4M272.3 172.2v3.4M313.8 231.4v-3.4M313.8 172.2v3.4M355.3 231.4v-3.4M355.3 172.2v3.4M147.7 174.8h3.4M355.3 174.8h-3.4M147.7 193.4h3.4M355.3 193.4h-3.4M147.7 212.0h3.4M355.3 212.0h-3.4" stroke="#262626" stroke-width="1.5" fill="none"/>
<text x="138.4" y="180.8" text-anchor="end" font-size="18.4" fill="#262626" textLength="31.8" lengthAdjust="spacingAndGlyphs">280</text>
<text x="138.4" y="200.3" text-anchor="end" font-size="18.4" fill="#262626" textLength="31.8" lengthAdjust="spacingAndGlyphs">275</text>
<text x="138.4" y="218.9" text-anchor="end" font-size="18.4" fill="#262626" textLength="31.8" lengthAdjust="spacingAndGlyphs">270</text>
<g fill="none" stroke="#0072BD" stroke-width="2.0"><circle cx="178.1" cy="225.2" r="3.65"/><circle cx="179.0" cy="224.9" r="3.65"/><circle cx="179.8" cy="224.4" r="3.65"/><circle cx="180.7" cy="224.2" r="3.65"/><circle cx="181.6" cy="223.0" r="3.65"/><circle cx="182.4" cy="222.9" r="3.65"/><circle cx="183.3" cy="219.6" r="3.65"/><circle cx="184.2" cy="221.5" r="3.65"/><circle cx="185.0" cy="223.6" r="3.65"/><circle cx="185.9" cy="223.4" r="3.65"/><circle cx="186.8" cy="224.8" r="3.65"/><circle cx="187.6" cy="223.0" r="3.65"/><circle cx="188.5" cy="224.7" r="3.65"/><circle cx="189.3" cy="224.7" r="3.65"/><circle cx="190.2" cy="226.2" r="3.65"/><circle cx="191.1" cy="227.2" r="3.65"/><circle cx="191.9" cy="226.4" r="3.65"/><circle cx="192.8" cy="227.9" r="3.65"/><circle cx="193.7" cy="228.9" r="3.65"/><circle cx="194.5" cy="231.7" r="3.65"/><circle cx="195.4" cy="232.1" r="3.65"/><circle cx="196.3" cy="230.1" r="3.65"/><circle cx="197.1" cy="231.8" r="3.65"/><circle cx="198.0" cy="229.6" r="3.65"/><circle cx="198.9" cy="230.9" r="3.65"/><circle cx="199.7" cy="229.2" r="3.65"/><circle cx="200.6" cy="228.7" r="3.65"/><circle cx="201.5" cy="231.1" r="3.65"/><circle cx="202.3" cy="228.9" r="3.65"/><circle cx="203.2" cy="228.7" r="3.65"/><circle cx="204.1" cy="230.8" r="3.65"/><circle cx="204.9" cy="230.0" r="3.65"/><circle cx="205.8" cy="227.7" r="3.65"/><circle cx="206.6" cy="229.1" r="3.65"/><circle cx="207.5" cy="227.3" r="3.65"/><circle cx="208.4" cy="227.2" r="3.65"/><circle cx="209.2" cy="225.2" r="3.65"/><circle cx="210.1" cy="226.7" r="3.65"/><circle cx="211.0" cy="225.2" r="3.65"/><circle cx="211.8" cy="225.3" r="3.65"/><circle cx="212.7" cy="224.4" r="3.65"/><circle cx="213.6" cy="221.9" r="3.65"/><circle cx="214.4" cy="221.3" r="3.65"/><circle cx="215.3" cy="220.0" r="3.65"/><circle cx="216.2" cy="219.2" r="3.65"/><circle cx="217.0" cy="217.6" r="3.65"/><circle cx="217.9" cy="216.9" r="3.65"/><circle cx="218.8" cy="216.5" r="3.65"/><circle cx="219.6" cy="213.3" r="3.65"/><circle cx="220.5" cy="213.9" r="3.65"/><circle cx="221.3" cy="211.5" r="3.65"/><circle cx="222.2" cy="211.6" r="3.65"/><circle cx="223.1" cy="213.3" r="3.65"/><circle cx="223.9" cy="212.4" r="3.65"/><circle cx="224.8" cy="212.1" r="3.65"/><circle cx="225.7" cy="212.8" r="3.65"/><circle cx="226.5" cy="213.6" r="3.65"/><circle cx="227.4" cy="211.8" r="3.65"/><circle cx="228.3" cy="214.7" r="3.65"/><circle cx="229.1" cy="210.9" r="3.65"/><circle cx="230.0" cy="212.1" r="3.65"/><circle cx="230.9" cy="211.4" r="3.65"/><circle cx="231.7" cy="208.0" r="3.65"/><circle cx="232.6" cy="209.3" r="3.65"/><circle cx="233.5" cy="207.0" r="3.65"/><circle cx="234.3" cy="206.7" r="3.65"/><circle cx="235.2" cy="204.0" r="3.65"/><circle cx="236.1" cy="204.4" r="3.65"/><circle cx="236.9" cy="205.0" r="3.65"/><circle cx="237.8" cy="207.5" r="3.65"/><circle cx="238.7" cy="205.5" r="3.65"/><circle cx="239.5" cy="207.4" r="3.65"/><circle cx="240.4" cy="208.1" r="3.65"/><circle cx="241.2" cy="207.9" r="3.65"/><circle cx="242.1" cy="205.9" r="3.65"/><circle cx="243.0" cy="205.7" r="3.65"/><circle cx="243.8" cy="205.9" r="3.65"/><circle cx="244.7" cy="206.4" r="3.65"/><circle cx="245.6" cy="204.2" r="3.65"/><circle cx="246.4" cy="205.9" r="3.65"/><circle cx="247.3" cy="205.8" r="3.65"/><circle cx="248.2" cy="205.3" r="3.65"/><circle cx="249.0" cy="202.1" r="3.65"/><circle cx="249.9" cy="204.1" r="3.65"/><circle cx="250.8" cy="200.8" r="3.65"/><circle cx="251.6" cy="200.8" r="3.65"/><circle cx="252.5" cy="200.9" r="3.65"/><circle cx="253.4" cy="201.1" r="3.65"/><circle cx="254.2" cy="198.6" r="3.65"/><circle cx="255.1" cy="201.1" r="3.65"/><circle cx="255.9" cy="200.7" r="3.65"/><circle cx="256.8" cy="200.8" r="3.65"/><circle cx="257.7" cy="201.6" r="3.65"/><circle cx="258.5" cy="201.9" r="3.65"/><circle cx="259.4" cy="202.3" r="3.65"/><circle cx="260.3" cy="201.1" r="3.65"/><circle cx="261.1" cy="201.2" r="3.65"/><circle cx="262.0" cy="200.6" r="3.65"/><circle cx="262.9" cy="196.7" r="3.65"/><circle cx="263.7" cy="194.8" r="3.65"/><circle cx="264.6" cy="196.2" r="3.65"/><circle cx="265.5" cy="194.1" r="3.65"/><circle cx="266.3" cy="193.0" r="3.65"/><circle cx="267.2" cy="191.8" r="3.65"/><circle cx="268.1" cy="192.1" r="3.65"/><circle cx="268.9" cy="192.1" r="3.65"/><circle cx="269.8" cy="190.3" r="3.65"/><circle cx="270.7" cy="189.5" r="3.65"/><circle cx="271.5" cy="187.7" r="3.65"/><circle cx="272.4" cy="190.6" r="3.65"/><circle cx="273.2" cy="188.4" r="3.65"/><circle cx="274.1" cy="190.2" r="3.65"/><circle cx="275.0" cy="191.6" r="3.65"/><circle cx="275.8" cy="189.9" r="3.65"/><circle cx="276.7" cy="192.1" r="3.65"/><circle cx="277.6" cy="193.1" r="3.65"/><circle cx="278.4" cy="192.6" r="3.65"/><circle cx="279.3" cy="192.4" r="3.65"/><circle cx="280.2" cy="189.7" r="3.65"/><circle cx="281.0" cy="190.1" r="3.65"/><circle cx="281.9" cy="188.5" r="3.65"/><circle cx="282.8" cy="190.0" r="3.65"/><circle cx="283.6" cy="187.7" r="3.65"/><circle cx="284.5" cy="187.5" r="3.65"/><circle cx="285.4" cy="188.5" r="3.65"/><circle cx="286.2" cy="189.4" r="3.65"/><circle cx="287.1" cy="191.2" r="3.65"/><circle cx="288.0" cy="191.0" r="3.65"/><circle cx="288.8" cy="192.5" r="3.65"/><circle cx="289.7" cy="194.6" r="3.65"/><circle cx="290.6" cy="195.2" r="3.65"/><circle cx="291.4" cy="196.0" r="3.65"/><circle cx="292.3" cy="197.7" r="3.65"/><circle cx="293.1" cy="196.2" r="3.65"/><circle cx="294.0" cy="196.2" r="3.65"/><circle cx="294.9" cy="197.3" r="3.65"/><circle cx="295.7" cy="196.5" r="3.65"/><circle cx="296.6" cy="194.8" r="3.65"/><circle cx="297.5" cy="193.6" r="3.65"/><circle cx="298.3" cy="192.4" r="3.65"/><circle cx="299.2" cy="191.0" r="3.65"/><circle cx="300.1" cy="190.2" r="3.65"/><circle cx="300.9" cy="190.5" r="3.65"/><circle cx="301.8" cy="189.5" r="3.65"/><circle cx="302.7" cy="186.7" r="3.65"/><circle cx="303.5" cy="186.6" r="3.65"/><circle cx="304.4" cy="185.3" r="3.65"/><circle cx="305.3" cy="184.3" r="3.65"/><circle cx="306.1" cy="183.3" r="3.65"/><circle cx="307.0" cy="182.8" r="3.65"/><circle cx="307.9" cy="180.8" r="3.65"/><circle cx="308.7" cy="182.5" r="3.65"/><circle cx="309.6" cy="181.8" r="3.65"/><circle cx="310.4" cy="183.1" r="3.65"/><circle cx="311.3" cy="184.6" r="3.65"/><circle cx="312.2" cy="184.2" r="3.65"/><circle cx="313.0" cy="182.7" r="3.65"/><circle cx="313.9" cy="184.5" r="3.65"/><circle cx="314.8" cy="183.4" r="3.65"/><circle cx="315.6" cy="183.0" r="3.65"/><circle cx="316.5" cy="181.0" r="3.65"/><circle cx="318.2" cy="174.3" r="3.65"/><circle cx="319.1" cy="172.5" r="3.65"/><circle cx="320.0" cy="172.7" r="3.65"/><circle cx="320.8" cy="172.1" r="3.65"/><circle cx="321.7" cy="173.2" r="3.65"/><circle cx="322.6" cy="172.6" r="3.65"/><circle cx="323.4" cy="173.1" r="3.65"/><circle cx="324.3" cy="171.7" r="3.65"/><circle cx="325.1" cy="172.6" r="3.65"/><circle cx="326.0" cy="172.9" r="3.65"/><circle cx="326.9" cy="173.2" r="3.65"/><circle cx="327.7" cy="172.2" r="3.65"/><circle cx="328.6" cy="174.0" r="3.65"/><circle cx="329.5" cy="174.5" r="3.65"/><circle cx="330.3" cy="174.4" r="3.65"/><circle cx="331.2" cy="175.6" r="3.65"/><circle cx="332.1" cy="176.0" r="3.65"/><circle cx="332.9" cy="175.1" r="3.65"/><circle cx="333.8" cy="175.5" r="3.65"/><circle cx="334.7" cy="174.8" r="3.65"/><circle cx="335.5" cy="177.3" r="3.65"/><circle cx="336.4" cy="178.0" r="3.65"/><circle cx="337.3" cy="177.1" r="3.65"/><circle cx="338.1" cy="178.1" r="3.65"/><circle cx="339.0" cy="178.7" r="3.65"/><circle cx="339.9" cy="179.4" r="3.65"/><circle cx="340.7" cy="178.5" r="3.65"/><circle cx="341.6" cy="181.0" r="3.65"/><circle cx="342.5" cy="181.1" r="3.65"/><circle cx="343.3" cy="182.1" r="3.65"/><circle cx="344.2" cy="182.1" r="3.65"/><circle cx="345.0" cy="183.4" r="3.65"/><circle cx="345.9" cy="184.6" r="3.65"/></g>
<path d="M492.4 177.1v2M492.4 183.0v2M492.4 189.0v2M492.4 194.9v2M492.4 206.7v2M492.4 212.6v2M492.4 218.6v2M492.4 224.5v2M497.9 177.1v2M497.9 183.0v2M497.9 189.0v2M497.9 194.9v2M497.9 206.7v2M497.9 212.6v2M497.9 218.6v2M497.9 224.5v2M503.5 177.1v2M503.5 183.0v2M503.5 189.0v2M503.5 194.9v2M503.5 206.7v2M503.5 212.6v2M503.5 218.6v2M503.5 224.5v2M509.0 177.1v2M509.0 183.0v2M509.0 189.0v2M509.0 194.9v2M509.0 206.7v2M509.0 212.6v2M509.0 218.6v2M509.0 224.5v2M514.6 177.1v2M514.6 183.0v2M514.6 189.0v2M514.6 194.9v2M514.6 206.7v2M514.6 212.6v2M514.6 218.6v2M514.6 224.5v2M520.2 177.1v2M520.2 183.0v2M520.2 189.0v2M520.2 194.9v2M520.2 206.7v2M520.2 212.6v2M520.2 218.6v2M520.2 224.5v2M525.7 177.1v2M525.7 183.0v2M525.7 189.0v2M525.7 194.9v2M525.7 206.7v2M525.7 212.6v2M525.7 218.6v2M525.7 224.5v2M531.3 177.1v2M531.3 183.0v2M531.3 189.0v2M531.3 194.9v2M531.3 206.7v2M531.3 212.6v2M531.3 218.6v2M531.3 224.5v2M536.8 177.1v2M536.8 183.0v2M536.8 189.0v2M536.8 194.9v2M536.8 206.7v2M536.8 212.6v2M536.8 218.6v2M536.8 224.5v2M542.4 177.1v2M542.4 183.0v2M542.4 189.0v2M542.4 194.9v2M542.4 206.7v2M542.4 212.6v2M542.4 218.6v2M542.4 224.5v2M548.0 177.1v2M548.0 183.0v2M548.0 189.0v2M548.0 194.9v2M548.0 206.7v2M548.0 212.6v2M548.0 218.6v2M548.0 224.5v2M553.5 177.1v2M553.5 183.0v2M553.5 189.0v2M553.5 194.9v2M553.5 206.7v2M553.5 212.6v2M553.5 218.6v2M553.5 224.5v2M559.1 177.1v2M559.1 183.0v2M559.1 189.0v2M559.1 194.9v2M559.1 206.7v2M559.1 212.6v2M559.1 218.6v2M559.1 224.5v2M564.6 177.1v2M564.6 183.0v2M564.6 189.0v2M564.6 194.9v2M564.6 206.7v2M564.6 212.6v2M564.6 218.6v2M564.6 224.5v2M570.2 177.1v2M570.2 183.0v2M570.2 189.0v2M570.2 194.9v2M570.2 206.7v2M570.2 212.6v2M570.2 218.6v2M570.2 224.5v2M575.8 177.1v2M575.8 183.0v2M575.8 189.0v2M575.8 194.9v2M575.8 206.7v2M575.8 212.6v2M575.8 218.6v2M575.8 224.5v2M581.3 177.1v2M581.3 183.0v2M581.3 189.0v2M581.3 194.9v2M581.3 206.7v2M581.3 212.6v2M581.3 218.6v2M581.3 224.5v2M586.9 177.1v2M586.9 183.0v2M586.9 189.0v2M586.9 194.9v2M586.9 206.7v2M586.9 212.6v2M586.9 218.6v2M586.9 224.5v2M592.4 177.1v2M592.4 183.0v2M592.4 189.0v2M592.4 194.9v2M592.4 206.7v2M592.4 212.6v2M592.4 218.6v2M592.4 224.5v2M598.0 177.1v2M598.0 183.0v2M598.0 189.0v2M598.0 194.9v2M598.0 206.7v2M598.0 212.6v2M598.0 218.6v2M598.0 224.5v2M603.6 177.1v2M603.6 183.0v2M603.6 189.0v2M603.6 194.9v2M603.6 206.7v2M603.6 212.6v2M603.6 218.6v2M603.6 224.5v2M609.1 177.1v2M609.1 183.0v2M609.1 189.0v2M609.1 194.9v2M609.1 206.7v2M609.1 212.6v2M609.1 218.6v2M609.1 224.5v2M614.7 177.1v2M614.7 183.0v2M614.7 189.0v2M614.7 194.9v2M614.7 206.7v2M614.7 212.6v2M614.7 218.6v2M614.7 224.5v2M620.2 177.1v2M620.2 183.0v2M620.2 189.0v2M620.2 194.9v2M620.2 206.7v2M620.2 212.6v2M620.2 218.6v2M620.2 224.5v2M625.8 177.1v2M625.8 183.0v2M625.8 189.0v2M625.8 194.9v2M625.8 206.7v2M625.8 212.6v2M625.8 218.6v2M625.8 224.5v2M631.4 177.1v2M631.4 183.0v2M631.4 189.0v2M631.4 194.9v2M631.4 206.7v2M631.4 212.6v2M631.4 218.6v2M631.4 224.5v2M636.9 177.1v2M636.9 183.0v2M636.9 189.0v2M636.9 194.9v2M636.9 206.7v2M636.9 212.6v2M636.9 218.6v2M636.9 224.5v2M642.5 177.1v2M642.5 183.0v2M642.5 189.0v2M642.5 194.9v2M642.5 206.7v2M642.5 212.6v2M642.5 218.6v2M642.5 224.5v2M648.0 177.1v2M648.0 183.0v2M648.0 189.0v2M648.0 194.9v2M648.0 206.7v2M648.0 212.6v2M648.0 218.6v2M648.0 224.5v2M653.6 177.1v2M653.6 183.0v2M653.6 189.0v2M653.6 194.9v2M653.6 206.7v2M653.6 212.6v2M653.6 218.6v2M653.6 224.5v2M659.2 177.1v2M659.2 183.0v2M659.2 189.0v2M659.2 194.9v2M659.2 206.7v2M659.2 212.6v2M659.2 218.6v2M659.2 224.5v2M664.7 177.1v2M664.7 183.0v2M664.7 189.0v2M664.7 194.9v2M664.7 206.7v2M664.7 212.6v2M664.7 218.6v2M664.7 224.5v2M670.3 177.1v2M670.3 183.0v2M670.3 189.0v2M670.3 194.9v2M670.3 206.7v2M670.3 212.6v2M670.3 218.6v2M670.3 224.5v2M675.8 177.1v2M675.8 183.0v2M675.8 189.0v2M675.8 194.9v2M675.8 206.7v2M675.8 212.6v2M675.8 218.6v2M675.8 224.5v2M681.4 177.1v2M681.4 183.0v2M681.4 189.0v2M681.4 194.9v2M681.4 206.7v2M681.4 212.6v2M681.4 218.6v2M681.4 224.5v2M687.0 177.1v2M687.0 183.0v2M687.0 189.0v2M687.0 194.9v2M687.0 206.7v2M687.0 212.6v2M687.0 218.6v2M687.0 224.5v2M692.5 177.1v2M692.5 183.0v2M692.5 189.0v2M692.5 194.9v2M692.5 206.7v2M692.5 212.6v2M692.5 218.6v2M692.5 224.5v2" stroke="#c6c6c6" stroke-width="1.1" fill="none"/>
<path d="M532.5 172.2V231.4M574.0 172.2V231.4M615.6 172.2V231.4M657.1 172.2V231.4M491.0 201.8H698.6" stroke="#dedede" stroke-width="1.6" fill="none"/>
<rect x="491.0" y="172.2" width="207.6" height="59.2" fill="none" stroke="#262626" stroke-width="2.1"/>
<path d="M491.0 231.4v-3.4M491.0 172.2v3.4M532.5 231.4v-3.4M532.5 172.2v3.4M574.0 231.4v-3.4M574.0 172.2v3.4M615.6 231.4v-3.4M615.6 172.2v3.4M657.1 231.4v-3.4M657.1 172.2v3.4M698.6 231.4v-3.4M698.6 172.2v3.4M491.0 172.2h3.4M698.6 172.2h-3.4M491.0 201.8h3.4M698.6 201.8h-3.4M491.0 231.4h3.4M698.6 231.4h-3.4" stroke="#262626" stroke-width="1.5" fill="none"/>
<text x="481.7" y="179.1" text-anchor="end" font-size="18.4" fill="#262626" textLength="26.1" lengthAdjust="spacingAndGlyphs">0.2</text>
<text x="481.7" y="208.7" text-anchor="end" font-size="18.4" fill="#262626" textLength="26.1" lengthAdjust="spacingAndGlyphs">0.1</text>
<text x="481.7" y="238.3" text-anchor="end" font-size="18.4" fill="#262626" textLength="10.6" lengthAdjust="spacingAndGlyphs">0</text>
<g fill="none" stroke="#0072BD" stroke-width="2.0"><circle cx="521.4" cy="231.6" r="3.65"/><circle cx="523.1" cy="231.6" r="3.65"/><circle cx="524.9" cy="231.6" r="3.65"/><circle cx="526.6" cy="231.6" r="3.65"/><circle cx="528.3" cy="231.6" r="3.65"/><circle cx="530.0" cy="231.6" r="3.65"/><circle cx="531.8" cy="231.6" r="3.65"/><circle cx="533.5" cy="231.6" r="3.65"/><circle cx="535.2" cy="231.6" r="3.65"/><circle cx="537.0" cy="231.6" r="3.65"/><circle cx="538.7" cy="231.6" r="3.65"/><circle cx="540.4" cy="231.6" r="3.65"/><circle cx="542.2" cy="231.6" r="3.65"/><circle cx="543.9" cy="231.6" r="3.65"/><circle cx="545.6" cy="231.6" r="3.65"/><circle cx="547.4" cy="171.9" r="3.65"/><circle cx="549.1" cy="231.6" r="3.65"/><circle cx="550.8" cy="231.6" r="3.65"/><circle cx="552.5" cy="231.6" r="3.65"/><circle cx="554.3" cy="231.6" r="3.65"/><circle cx="556.0" cy="231.6" r="3.65"/><circle cx="557.7" cy="231.6" r="3.65"/><circle cx="559.5" cy="231.6" r="3.65"/><circle cx="561.2" cy="231.6" r="3.65"/><circle cx="562.9" cy="231.6" r="3.65"/><circle cx="564.6" cy="231.6" r="3.65"/><circle cx="566.4" cy="231.6" r="3.65"/><circle cx="568.1" cy="231.6" r="3.65"/><circle cx="569.8" cy="231.6" r="3.65"/><circle cx="571.6" cy="231.6" r="3.65"/><circle cx="573.3" cy="231.6" r="3.65"/><circle cx="575.0" cy="231.6" r="3.65"/><circle cx="576.8" cy="231.6" r="3.65"/><circle cx="578.5" cy="231.6" r="3.65"/><circle cx="580.2" cy="231.6" r="3.65"/><circle cx="581.9" cy="231.6" r="3.65"/><circle cx="583.7" cy="231.6" r="3.65"/><circle cx="585.4" cy="231.6" r="3.65"/><circle cx="587.1" cy="231.6" r="3.65"/><circle cx="588.9" cy="231.6" r="3.65"/><circle cx="590.6" cy="231.6" r="3.65"/><circle cx="592.3" cy="231.6" r="3.65"/><circle cx="594.1" cy="231.6" r="3.65"/><circle cx="595.8" cy="231.6" r="3.65"/><circle cx="597.5" cy="231.6" r="3.65"/><circle cx="599.2" cy="231.6" r="3.65"/><circle cx="601.0" cy="231.6" r="3.65"/><circle cx="602.7" cy="231.6" r="3.65"/><circle cx="604.4" cy="231.6" r="3.65"/><circle cx="606.2" cy="231.6" r="3.65"/><circle cx="607.9" cy="231.6" r="3.65"/><circle cx="609.6" cy="231.6" r="3.65"/><circle cx="611.4" cy="231.6" r="3.65"/><circle cx="613.1" cy="231.6" r="3.65"/><circle cx="614.8" cy="231.6" r="3.65"/><circle cx="616.5" cy="231.6" r="3.65"/><circle cx="618.3" cy="231.6" r="3.65"/><circle cx="620.0" cy="231.6" r="3.65"/><circle cx="621.7" cy="231.6" r="3.65"/><circle cx="623.5" cy="231.6" r="3.65"/><circle cx="625.2" cy="231.6" r="3.65"/><circle cx="626.9" cy="231.6" r="3.65"/><circle cx="628.7" cy="231.6" r="3.65"/><circle cx="630.4" cy="231.6" r="3.65"/><circle cx="632.1" cy="231.6" r="3.65"/><circle cx="633.9" cy="231.6" r="3.65"/><circle cx="635.6" cy="231.6" r="3.65"/><circle cx="637.3" cy="231.6" r="3.65"/><circle cx="639.0" cy="231.6" r="3.65"/><circle cx="640.8" cy="231.6" r="3.65"/><circle cx="642.5" cy="231.6" r="3.65"/><circle cx="644.2" cy="231.6" r="3.65"/><circle cx="646.0" cy="231.6" r="3.65"/><circle cx="647.7" cy="231.6" r="3.65"/><circle cx="649.4" cy="231.6" r="3.65"/><circle cx="651.1" cy="231.6" r="3.65"/><circle cx="652.9" cy="231.6" r="3.65"/><circle cx="654.6" cy="231.6" r="3.65"/><circle cx="656.3" cy="231.6" r="3.65"/><circle cx="658.1" cy="231.6" r="3.65"/><circle cx="659.8" cy="231.6" r="3.65"/><circle cx="661.5" cy="231.6" r="3.65"/><circle cx="663.3" cy="231.6" r="3.65"/><circle cx="665.0" cy="231.6" r="3.65"/><circle cx="666.7" cy="231.6" r="3.65"/><circle cx="668.5" cy="231.6" r="3.65"/><circle cx="670.2" cy="231.6" r="3.65"/><circle cx="671.9" cy="231.6" r="3.65"/><circle cx="673.6" cy="231.6" r="3.65"/><circle cx="675.4" cy="231.6" r="3.65"/><circle cx="677.1" cy="231.6" r="3.65"/><circle cx="678.8" cy="231.6" r="3.65"/><circle cx="680.6" cy="231.6" r="3.65"/><circle cx="682.3" cy="231.6" r="3.65"/><circle cx="684.0" cy="231.6" r="3.65"/><circle cx="685.8" cy="231.6" r="3.65"/><circle cx="687.5" cy="231.6" r="3.65"/><circle cx="689.2" cy="231.6" r="3.65"/></g>
<path d="M149.1 304.2v2M149.1 310.2v2M149.1 316.3v2M149.1 322.3v2M149.1 334.3v2M149.1 340.3v2M149.1 346.4v2M149.1 352.4v2M154.6 304.2v2M154.6 310.2v2M154.6 316.3v2M154.6 322.3v2M154.6 334.3v2M154.6 340.3v2M154.6 346.4v2M154.6 352.4v2M160.2 304.2v2M160.2 310.2v2M160.2 316.3v2M160.2 322.3v2M160.2 334.3v2M160.2 340.3v2M160.2 346.4v2M160.2 352.4v2M165.7 304.2v2M165.7 310.2v2M165.7 316.3v2M165.7 322.3v2M165.7 334.3v2M165.7 340.3v2M165.7 346.4v2M165.7 352.4v2M171.3 304.2v2M171.3 310.2v2M171.3 316.3v2M171.3 322.3v2M171.3 334.3v2M171.3 340.3v2M171.3 346.4v2M171.3 352.4v2M176.9 304.2v2M176.9 310.2v2M176.9 316.3v2M176.9 322.3v2M176.9 334.3v2M176.9 340.3v2M176.9 346.4v2M176.9 352.4v2M182.4 304.2v2M182.4 310.2v2M182.4 316.3v2M182.4 322.3v2M182.4 334.3v2M182.4 340.3v2M182.4 346.4v2M182.4 352.4v2M188.0 304.2v2M188.0 310.2v2M188.0 316.3v2M188.0 322.3v2M188.0 334.3v2M188.0 340.3v2M188.0 346.4v2M188.0 352.4v2M193.5 304.2v2M193.5 310.2v2M193.5 316.3v2M193.5 322.3v2M193.5 334.3v2M193.5 340.3v2M193.5 346.4v2M193.5 352.4v2M199.1 304.2v2M199.1 310.2v2M199.1 316.3v2M199.1 322.3v2M199.1 334.3v2M199.1 340.3v2M199.1 346.4v2M199.1 352.4v2M204.7 304.2v2M204.7 310.2v2M204.7 316.3v2M204.7 322.3v2M204.7 334.3v2M204.7 340.3v2M204.7 346.4v2M204.7 352.4v2M210.2 304.2v2M210.2 310.2v2M210.2 316.3v2M210.2 322.3v2M210.2 334.3v2M210.2 340.3v2M210.2 346.4v2M210.2 352.4v2M215.8 304.2v2M215.8 310.2v2M215.8 316.3v2M215.8 322.3v2M215.8 334.3v2M215.8 340.3v2M215.8 346.4v2M215.8 352.4v2M221.3 304.2v2M221.3 310.2v2M221.3 316.3v2M221.3 322.3v2M221.3 334.3v2M221.3 340.3v2M221.3 346.4v2M221.3 352.4v2M226.9 304.2v2M226.9 310.2v2M226.9 316.3v2M226.9 322.3v2M226.9 334.3v2M226.9 340.3v2M226.9 346.4v2M226.9 352.4v2M232.5 304.2v2M232.5 310.2v2M232.5 316.3v2M232.5 322.3v2M232.5 334.3v2M232.5 340.3v2M232.5 346.4v2M232.5 352.4v2M238.0 304.2v2M238.0 310.2v2M238.0 316.3v2M238.0 322.3v2M238.0 334.3v2M238.0 340.3v2M238.0 346.4v2M238.0 352.4v2M243.6 304.2v2M243.6 310.2v2M243.6 316.3v2M243.6 322.3v2M243.6 334.3v2M243.6 340.3v2M243.6 346.4v2M243.6 352.4v2M249.1 304.2v2M249.1 310.2v2M249.1 316.3v2M249.1 322.3v2M249.1 334.3v2M249.1 340.3v2M249.1 346.4v2M249.1 352.4v2M254.7 304.2v2M254.7 310.2v2M254.7 316.3v2M254.7 322.3v2M254.7 334.3v2M254.7 340.3v2M254.7 346.4v2M254.7 352.4v2M260.3 304.2v2M260.3 310.2v2M260.3 316.3v2M260.3 322.3v2M260.3 334.3v2M260.3 340.3v2M260.3 346.4v2M260.3 352.4v2M265.8 304.2v2M265.8 310.2v2M265.8 316.3v2M265.8 322.3v2M265.8 334.3v2M265.8 340.3v2M265.8 346.4v2M265.8 352.4v2M271.4 304.2v2M271.4 310.2v2M271.4 316.3v2M271.4 322.3v2M271.4 334.3v2M271.4 340.3v2M271.4 346.4v2M271.4 352.4v2M276.9 304.2v2M276.9 310.2v2M276.9 316.3v2M276.9 322.3v2M276.9 334.3v2M276.9 340.3v2M276.9 346.4v2M276.9 352.4v2M282.5 304.2v2M282.5 310.2v2M282.5 316.3v2M282.5 322.3v2M282.5 334.3v2M282.5 340.3v2M282.5 346.4v2M282.5 352.4v2M288.1 304.2v2M288.1 310.2v2M288.1 316.3v2M288.1 322.3v2M288.1 334.3v2M288.1 340.3v2M288.1 346.4v2M288.1 352.4v2M293.6 304.2v2M293.6 310.2v2M293.6 316.3v2M293.6 322.3v2M293.6 334.3v2M293.6 340.3v2M293.6 346.4v2M293.6 352.4v2M299.2 304.2v2M299.2 310.2v2M299.2 316.3v2M299.2 322.3v2M299.2 334.3v2M299.2 340.3v2M299.2 346.4v2M299.2 352.4v2M304.7 304.2v2M304.7 310.2v2M304.7 316.3v2M304.7 322.3v2M304.7 334.3v2M304.7 340.3v2M304.7 346.4v2M304.7 352.4v2M310.3 304.2v2M310.3 310.2v2M310.3 316.3v2M310.3 322.3v2M310.3 334.3v2M310.3 340.3v2M310.3 346.4v2M310.3 352.4v2M315.9 304.2v2M315.9 310.2v2M315.9 316.3v2M315.9 322.3v2M315.9 334.3v2M315.9 340.3v2M315.9 346.4v2M315.9 352.4v2M321.4 304.2v2M321.4 310.2v2M321.4 316.3v2M321.4 322.3v2M321.4 334.3v2M321.4 340.3v2M321.4 346.4v2M321.4 352.4v2M327.0 304.2v2M327.0 310.2v2M327.0 316.3v2M327.0 322.3v2M327.0 334.3v2M327.0 340.3v2M327.0 346.4v2M327.0 352.4v2M332.5 304.2v2M332.5 310.2v2M332.5 316.3v2M332.5 322.3v2M332.5 334.3v2M332.5 340.3v2M332.5 346.4v2M332.5 352.4v2M338.1 304.2v2M338.1 310.2v2M338.1 316.3v2M338.1 322.3v2M338.1 334.3v2M338.1 340.3v2M338.1 346.4v2M338.1 352.4v2M343.7 304.2v2M343.7 310.2v2M343.7 316.3v2M343.7 322.3v2M343.7 334.3v2M343.7 340.3v2M343.7 346.4v2M343.7 352.4v2M349.2 304.2v2M349.2 310.2v2M349.2 316.3v2M349.2 322.3v2M349.2 334.3v2M349.2 340.3v2M349.2 346.4v2M349.2 352.4v2" stroke="#c6c6c6" stroke-width="1.1" fill="none"/>
<path d="M189.2 299.2V359.4M230.7 299.2V359.4M272.3 299.2V359.4M313.8 299.2V359.4M147.7 329.3H355.3" stroke="#dedede" stroke-width="1.6" fill="none"/>
<rect x="147.7" y="299.2" width="207.6" height="60.2" fill="none" stroke="#262626" stroke-width="2.1"/>
<path d="M147.7 359.4v-3.4M147.7 299.2v3.4M189.2 359.4v-3.4M189.2 299.2v3.4M230.7 359.4v-3.4M230.7 299.2v3.4M272.3 359.4v-3.4M272.3 299.2v3.4M313.8 359.4v-3.4M313.8 299.2v3.4M355.3 359.4v-3.4M355.3 299.2v3.4M147.7 299.2h3.4M355.3 299.2h-3.4M147.7 329.3h3.4M355.3 329.3h-3.4M147.7 359.4h3.4M355.3 359.4h-3.4" stroke="#262626" stroke-width="1.5" fill="none"/>
<text x="138.4" y="306.1" text-anchor="end" font-size="18.4" fill="#262626" textLength="42.4" lengthAdjust="spacingAndGlyphs">2000</text>
<text x="138.4" y="336.2" text-anchor="end" font-size="18.4" fill="#262626" textLength="42.4" lengthAdjust="spacingAndGlyphs">1000</text>
<text x="138.4" y="366.3" text-anchor="end" font-size="18.4" fill="#262626" textLength="10.6" lengthAdjust="spacingAndGlyphs">0</text>
<g fill="none" stroke="#0072BD" stroke-width="2.0"><circle cx="177.9" cy="345.3" r="3.65"/><circle cx="179.8" cy="347.9" r="3.65"/><circle cx="181.7" cy="349.2" r="3.65"/><circle cx="183.7" cy="351.1" r="3.65"/><circle cx="185.6" cy="346.6" r="3.65"/><circle cx="187.5" cy="343.4" r="3.65"/><circle cx="189.5" cy="342.8" r="3.65"/><circle cx="191.4" cy="344.7" r="3.65"/><circle cx="192.7" cy="344.7" r="3.65"/><circle cx="194.0" cy="345.3" r="3.65"/><circle cx="195.9" cy="342.8" r="3.65"/><circle cx="197.2" cy="338.9" r="3.65"/><circle cx="199.7" cy="334.4" r="3.65"/><circle cx="201.0" cy="331.6" r="3.65"/><circle cx="202.3" cy="329.9" r="3.65"/><circle cx="203.6" cy="328.8" r="3.65"/><circle cx="204.9" cy="327.3" r="3.65"/><circle cx="206.5" cy="326.0" r="3.65"/><circle cx="208.1" cy="326.0" r="3.65"/><circle cx="209.7" cy="326.7" r="3.65"/><circle cx="211.3" cy="327.3" r="3.65"/><circle cx="212.9" cy="328.4" r="3.65"/><circle cx="214.5" cy="329.9" r="3.65"/><circle cx="215.8" cy="330.8" r="3.65"/><circle cx="217.1" cy="333.1" r="3.65"/><circle cx="219.0" cy="337.0" r="3.65"/><circle cx="220.3" cy="340.2" r="3.65"/><circle cx="221.6" cy="346.6" r="3.65"/><circle cx="222.9" cy="347.9" r="3.65"/><circle cx="224.2" cy="349.2" r="3.65"/><circle cx="226.1" cy="349.4" r="3.65"/><circle cx="228.1" cy="351.1" r="3.65"/><circle cx="230.0" cy="350.7" r="3.65"/><circle cx="231.9" cy="350.5" r="3.65"/><circle cx="233.5" cy="348.9" r="3.65"/><circle cx="235.1" cy="348.6" r="3.65"/><circle cx="237.1" cy="342.8" r="3.65"/><circle cx="239.0" cy="338.9" r="3.65"/><circle cx="240.9" cy="334.4" r="3.65"/><circle cx="242.9" cy="329.9" r="3.65"/><circle cx="244.8" cy="326.0" r="3.65"/><circle cx="246.7" cy="320.9" r="3.65"/><circle cx="248.0" cy="315.1" r="3.65"/><circle cx="249.3" cy="313.5" r="3.65"/><circle cx="250.6" cy="313.2" r="3.65"/><circle cx="252.4" cy="312.2" r="3.65"/><circle cx="254.6" cy="313.7" r="3.65"/><circle cx="256.4" cy="330.8" r="3.65"/><circle cx="258.3" cy="344.7" r="3.65"/><circle cx="259.8" cy="346.9" r="3.65"/><circle cx="262.0" cy="352.1" r="3.65"/><circle cx="263.7" cy="354.0" r="3.65"/><circle cx="265.7" cy="346.9" r="3.65"/><circle cx="267.2" cy="354.3" r="3.65"/><circle cx="268.7" cy="355.2" r="3.65"/><circle cx="270.1" cy="356.8" r="3.65"/><circle cx="271.6" cy="357.3" r="3.65"/><circle cx="273.1" cy="357.3" r="3.65"/><circle cx="274.5" cy="357.3" r="3.65"/><circle cx="276.0" cy="357.3" r="3.65"/><circle cx="277.5" cy="357.2" r="3.65"/><circle cx="279.0" cy="357.5" r="3.65"/><circle cx="280.5" cy="356.5" r="3.65"/><circle cx="283.0" cy="355.8" r="3.65"/><circle cx="284.4" cy="344.7" r="3.65"/><circle cx="286.0" cy="332.1" r="3.65"/><circle cx="287.3" cy="332.1" r="3.65"/><circle cx="288.6" cy="332.1" r="3.65"/><circle cx="290.2" cy="332.1" r="3.65"/><circle cx="291.8" cy="321.0" r="3.65"/><circle cx="293.3" cy="309.2" r="3.65"/><circle cx="295.0" cy="321.0" r="3.65"/><circle cx="296.7" cy="333.6" r="3.65"/><circle cx="299.0" cy="341.0" r="3.65"/><circle cx="300.4" cy="339.5" r="3.65"/><circle cx="301.9" cy="348.4" r="3.65"/><circle cx="303.4" cy="355.0" r="3.65"/><circle cx="305.6" cy="357.3" r="3.65"/><circle cx="307.1" cy="357.6" r="3.65"/><circle cx="308.5" cy="359.0" r="3.65"/><circle cx="310.0" cy="358.7" r="3.65"/><circle cx="311.9" cy="357.3" r="3.65"/><circle cx="313.7" cy="357.3" r="3.65"/><circle cx="315.5" cy="355.3" r="3.65"/><circle cx="317.4" cy="352.1" r="3.65"/><circle cx="318.9" cy="349.5" r="3.65"/><circle cx="320.4" cy="347.6" r="3.65"/><circle cx="322.2" cy="345.2" r="3.65"/><circle cx="324.1" cy="344.0" r="3.65"/><circle cx="326.0" cy="341.5" r="3.65"/><circle cx="327.8" cy="340.3" r="3.65"/><circle cx="329.2" cy="337.7" r="3.65"/><circle cx="330.7" cy="335.8" r="3.65"/><circle cx="333.0" cy="332.1" r="3.65"/><circle cx="334.4" cy="328.4" r="3.65"/><circle cx="335.6" cy="326.2" r="3.65"/><circle cx="337.2" cy="332.1" r="3.65"/><circle cx="338.8" cy="340.3" r="3.65"/><circle cx="340.6" cy="352.8" r="3.65"/><circle cx="342.0" cy="353.0" r="3.65"/><circle cx="343.3" cy="352.1" r="3.65"/><circle cx="345.5" cy="351.3" r="3.65"/></g>
<path d="M492.4 310.2v2M492.4 322.3v2M492.4 334.3v2M492.4 346.4v2M497.9 310.2v2M497.9 322.3v2M497.9 334.3v2M497.9 346.4v2M503.5 310.2v2M503.5 322.3v2M503.5 334.3v2M503.5 346.4v2M509.0 310.2v2M509.0 322.3v2M509.0 334.3v2M509.0 346.4v2M514.6 310.2v2M514.6 322.3v2M514.6 334.3v2M514.6 346.4v2M520.2 310.2v2M520.2 322.3v2M520.2 334.3v2M520.2 346.4v2M525.7 310.2v2M525.7 322.3v2M525.7 334.3v2M525.7 346.4v2M531.3 310.2v2M531.3 322.3v2M531.3 334.3v2M531.3 346.4v2M536.8 310.2v2M536.8 322.3v2M536.8 334.3v2M536.8 346.4v2M542.4 310.2v2M542.4 322.3v2M542.4 334.3v2M542.4 346.4v2M548.0 310.2v2M548.0 322.3v2M548.0 334.3v2M548.0 346.4v2M553.5 310.2v2M553.5 322.3v2M553.5 334.3v2M553.5 346.4v2M559.1 310.2v2M559.1 322.3v2M559.1 334.3v2M559.1 346.4v2M564.6 310.2v2M564.6 322.3v2M564.6 334.3v2M564.6 346.4v2M570.2 310.2v2M570.2 322.3v2M570.2 334.3v2M570.2 346.4v2M575.8 310.2v2M575.8 322.3v2M575.8 334.3v2M575.8 346.4v2M581.3 310.2v2M581.3 322.3v2M581.3 334.3v2M581.3 346.4v2M586.9 310.2v2M586.9 322.3v2M586.9 334.3v2M586.9 346.4v2M592.4 310.2v2M592.4 322.3v2M592.4 334.3v2M592.4 346.4v2M598.0 310.2v2M598.0 322.3v2M598.0 334.3v2M598.0 346.4v2M603.6 310.2v2M603.6 322.3v2M603.6 334.3v2M603.6 346.4v2M609.1 310.2v2M609.1 322.3v2M609.1 334.3v2M609.1 346.4v2M614.7 310.2v2M614.7 322.3v2M614.7 334.3v2M614.7 346.4v2M620.2 310.2v2M620.2 322.3v2M620.2 334.3v2M620.2 346.4v2M625.8 310.2v2M625.8 322.3v2M625.8 334.3v2M625.8 346.4v2M631.4 310.2v2M631.4 322.3v2M631.4 334.3v2M631.4 346.4v2M636.9 310.2v2M636.9 322.3v2M636.9 334.3v2M636.9 346.4v2M642.5 310.2v2M642.5 322.3v2M642.5 334.3v2M642.5 346.4v2M648.0 310.2v2M648.0 322.3v2M648.0 334.3v2M648.0 346.4v2M653.6 310.2v2M653.6 322.3v2M653.6 334.3v2M653.6 346.4v2M659.2 310.2v2M659.2 322.3v2M659.2 334.3v2M659.2 346.4v2M664.7 310.2v2M664.7 322.3v2M664.7 334.3v2M664.7 346.4v2M670.3 310.2v2M670.3 322.3v2M670.3 334.3v2M670.3 346.4v2M675.8 310.2v2M675.8 322.3v2M675.8 334.3v2M675.8 346.4v2M681.4 310.2v2M681.4 322.3v2M681.4 334.3v2M681.4 346.4v2M687.0 310.2v2M687.0 322.3v2M687.0 334.3v2M687.0 346.4v2M692.5 310.2v2M692.5 322.3v2M692.5 334.3v2M692.5 346.4v2" stroke="#c6c6c6" stroke-width="1.1" fill="none"/>
<path d="M532.5 299.2V359.4M574.0 299.2V359.4M615.6 299.2V359.4M657.1 299.2V359.4" stroke="#dedede" stroke-width="1.6" fill="none"/>
<rect x="491.0" y="299.2" width="207.6" height="60.2" fill="none" stroke="#262626" stroke-width="2.1"/>
<path d="M491.0 359.4v-3.4M491.0 299.2v3.4M532.5 359.4v-3.4M532.5 299.2v3.4M574.0 359.4v-3.4M574.0 299.2v3.4M615.6 359.4v-3.4M615.6 299.2v3.4M657.1 359.4v-3.4M657.1 299.2v3.4M698.6 359.4v-3.4M698.6 299.2v3.4M491.0 299.2h3.4M698.6 299.2h-3.4M491.0 359.4h3.4M698.6 359.4h-3.4" stroke="#262626" stroke-width="1.5" fill="none"/>
<text x="481.7" y="306.1" text-anchor="end" font-size="18.4" fill="#262626" textLength="10.6" lengthAdjust="spacingAndGlyphs">5</text>
<text x="481.7" y="366.3" text-anchor="end" font-size="18.4" fill="#262626" textLength="10.6" lengthAdjust="spacingAndGlyphs">0</text>
<g fill="none" stroke="#0072BD" stroke-width="2.0"><circle cx="521.4" cy="351.8" r="3.65"/><circle cx="523.1" cy="352.4" r="3.65"/><circle cx="524.9" cy="352.1" r="3.65"/><circle cx="526.6" cy="351.8" r="3.65"/><circle cx="528.3" cy="343.4" r="3.65"/><circle cx="530.0" cy="330.6" r="3.65"/><circle cx="530.9" cy="332.5" r="3.65"/><circle cx="531.8" cy="331.0" r="3.65"/><circle cx="532.6" cy="332.6" r="3.65"/><circle cx="533.5" cy="331.6" r="3.65"/><circle cx="534.4" cy="332.2" r="3.65"/><circle cx="535.2" cy="334.2" r="3.65"/><circle cx="536.1" cy="332.2" r="3.65"/><circle cx="537.0" cy="333.0" r="3.65"/><circle cx="537.8" cy="332.4" r="3.65"/><circle cx="538.7" cy="332.1" r="3.65"/><circle cx="539.6" cy="332.0" r="3.65"/><circle cx="540.4" cy="331.1" r="3.65"/><circle cx="541.3" cy="331.7" r="3.65"/><circle cx="542.2" cy="329.3" r="3.65"/><circle cx="543.0" cy="328.8" r="3.65"/><circle cx="543.9" cy="327.5" r="3.65"/><circle cx="544.8" cy="327.8" r="3.65"/><circle cx="545.6" cy="327.8" r="3.65"/><circle cx="546.5" cy="328.5" r="3.65"/><circle cx="547.4" cy="327.1" r="3.65"/><circle cx="548.2" cy="326.2" r="3.65"/><circle cx="549.1" cy="326.2" r="3.65"/><circle cx="549.9" cy="327.2" r="3.65"/><circle cx="550.8" cy="324.7" r="3.65"/><circle cx="551.7" cy="325.4" r="3.65"/><circle cx="552.5" cy="324.3" r="3.65"/><circle cx="553.4" cy="324.4" r="3.65"/><circle cx="554.3" cy="323.1" r="3.65"/><circle cx="555.1" cy="323.9" r="3.65"/><circle cx="556.0" cy="323.5" r="3.65"/><circle cx="556.9" cy="323.8" r="3.65"/><circle cx="557.7" cy="324.4" r="3.65"/><circle cx="558.6" cy="323.7" r="3.65"/><circle cx="559.5" cy="322.7" r="3.65"/><circle cx="560.3" cy="322.3" r="3.65"/><circle cx="561.2" cy="324.0" r="3.65"/><circle cx="562.1" cy="322.8" r="3.65"/><circle cx="562.9" cy="322.0" r="3.65"/><circle cx="563.8" cy="323.4" r="3.65"/><circle cx="564.6" cy="322.4" r="3.65"/><circle cx="565.5" cy="323.0" r="3.65"/><circle cx="566.4" cy="323.7" r="3.65"/><circle cx="567.2" cy="322.7" r="3.65"/><circle cx="568.1" cy="323.2" r="3.65"/><circle cx="569.0" cy="324.6" r="3.65"/><circle cx="569.8" cy="323.3" r="3.65"/><circle cx="570.7" cy="324.9" r="3.65"/><circle cx="571.6" cy="323.6" r="3.65"/><circle cx="572.4" cy="325.2" r="3.65"/><circle cx="573.3" cy="325.4" r="3.65"/><circle cx="574.2" cy="326.2" r="3.65"/><circle cx="575.0" cy="326.2" r="3.65"/><circle cx="575.9" cy="325.1" r="3.65"/><circle cx="576.8" cy="324.1" r="3.65"/><circle cx="577.6" cy="323.7" r="3.65"/><circle cx="578.5" cy="324.2" r="3.65"/><circle cx="579.4" cy="323.8" r="3.65"/><circle cx="580.2" cy="322.6" r="3.65"/><circle cx="581.1" cy="324.4" r="3.65"/><circle cx="581.9" cy="323.5" r="3.65"/><circle cx="582.8" cy="323.9" r="3.65"/><circle cx="583.7" cy="322.9" r="3.65"/><circle cx="584.5" cy="322.9" r="3.65"/><circle cx="585.4" cy="322.4" r="3.65"/><circle cx="586.3" cy="322.8" r="3.65"/><circle cx="587.1" cy="322.3" r="3.65"/><circle cx="588.0" cy="322.4" r="3.65"/><circle cx="588.9" cy="321.9" r="3.65"/><circle cx="590.6" cy="316.4" r="3.65"/><circle cx="591.5" cy="314.7" r="3.65"/><circle cx="592.3" cy="311.2" r="3.65"/><circle cx="593.2" cy="311.3" r="3.65"/><circle cx="594.1" cy="310.5" r="3.65"/><circle cx="594.9" cy="311.3" r="3.65"/><circle cx="595.8" cy="311.6" r="3.65"/><circle cx="596.7" cy="309.6" r="3.65"/><circle cx="597.5" cy="310.5" r="3.65"/><circle cx="598.4" cy="310.1" r="3.65"/><circle cx="599.2" cy="310.1" r="3.65"/><circle cx="600.1" cy="312.4" r="3.65"/><circle cx="601.0" cy="312.2" r="3.65"/><circle cx="601.8" cy="311.9" r="3.65"/><circle cx="602.7" cy="312.6" r="3.65"/><circle cx="603.6" cy="312.3" r="3.65"/><circle cx="604.4" cy="312.8" r="3.65"/><circle cx="605.3" cy="313.0" r="3.65"/><circle cx="606.2" cy="313.0" r="3.65"/><circle cx="607.0" cy="313.6" r="3.65"/><circle cx="607.9" cy="313.1" r="3.65"/><circle cx="608.8" cy="312.8" r="3.65"/><circle cx="609.6" cy="312.9" r="3.65"/><circle cx="610.5" cy="313.1" r="3.65"/><circle cx="611.4" cy="314.2" r="3.65"/><circle cx="612.2" cy="314.0" r="3.65"/><circle cx="613.1" cy="315.2" r="3.65"/><circle cx="614.0" cy="315.1" r="3.65"/><circle cx="614.8" cy="316.1" r="3.65"/><circle cx="615.7" cy="317.2" r="3.65"/><circle cx="616.5" cy="315.8" r="3.65"/><circle cx="617.4" cy="316.2" r="3.65"/><circle cx="618.3" cy="317.1" r="3.65"/><circle cx="619.1" cy="318.2" r="3.65"/><circle cx="620.0" cy="319.2" r="3.65"/><circle cx="620.9" cy="320.0" r="3.65"/><circle cx="621.7" cy="319.5" r="3.65"/><circle cx="622.6" cy="321.3" r="3.65"/><circle cx="623.5" cy="319.6" r="3.65"/><circle cx="624.3" cy="321.8" r="3.65"/><circle cx="625.2" cy="320.9" r="3.65"/><circle cx="626.1" cy="321.8" r="3.65"/><circle cx="626.9" cy="319.4" r="3.65"/><circle cx="627.8" cy="320.9" r="3.65"/><circle cx="628.7" cy="319.9" r="3.65"/><circle cx="629.5" cy="319.9" r="3.65"/><circle cx="630.4" cy="318.5" r="3.65"/><circle cx="631.3" cy="317.8" r="3.65"/><circle cx="632.1" cy="319.8" r="3.65"/><circle cx="633.0" cy="318.9" r="3.65"/><circle cx="633.9" cy="318.3" r="3.65"/><circle cx="634.7" cy="319.7" r="3.65"/><circle cx="635.6" cy="319.7" r="3.65"/><circle cx="636.4" cy="319.9" r="3.65"/><circle cx="637.3" cy="319.4" r="3.65"/><circle cx="638.2" cy="319.4" r="3.65"/><circle cx="639.0" cy="320.4" r="3.65"/><circle cx="639.9" cy="320.1" r="3.65"/><circle cx="640.8" cy="319.4" r="3.65"/><circle cx="641.6" cy="320.1" r="3.65"/><circle cx="642.5" cy="320.7" r="3.65"/><circle cx="643.4" cy="320.7" r="3.65"/><circle cx="644.2" cy="320.1" r="3.65"/><circle cx="645.1" cy="319.9" r="3.65"/><circle cx="646.0" cy="319.7" r="3.65"/><circle cx="646.8" cy="319.4" r="3.65"/><circle cx="647.7" cy="319.2" r="3.65"/><circle cx="648.6" cy="319.7" r="3.65"/><circle cx="649.4" cy="318.9" r="3.65"/><circle cx="650.3" cy="320.2" r="3.65"/><circle cx="651.1" cy="320.1" r="3.65"/><circle cx="652.0" cy="318.9" r="3.65"/><circle cx="652.9" cy="316.6" r="3.65"/><circle cx="653.7" cy="316.4" r="3.65"/><circle cx="654.6" cy="315.6" r="3.65"/><circle cx="655.5" cy="314.2" r="3.65"/><circle cx="656.3" cy="315.5" r="3.65"/><circle cx="657.2" cy="314.4" r="3.65"/><circle cx="658.1" cy="313.2" r="3.65"/><circle cx="658.9" cy="313.0" r="3.65"/><circle cx="659.8" cy="311.2" r="3.65"/><circle cx="660.7" cy="310.0" r="3.65"/><circle cx="661.5" cy="309.4" r="3.65"/><circle cx="662.4" cy="308.5" r="3.65"/><circle cx="663.3" cy="307.0" r="3.65"/><circle cx="665.0" cy="300.5" r="3.65"/><circle cx="665.9" cy="301.4" r="3.65"/><circle cx="666.7" cy="301.6" r="3.65"/><circle cx="667.6" cy="300.8" r="3.65"/><circle cx="668.5" cy="300.8" r="3.65"/><circle cx="669.3" cy="300.5" r="3.65"/><circle cx="670.2" cy="298.4" r="3.65"/><circle cx="671.0" cy="299.1" r="3.65"/><circle cx="671.9" cy="300.2" r="3.65"/><circle cx="672.8" cy="301.6" r="3.65"/><circle cx="673.6" cy="300.8" r="3.65"/><circle cx="674.5" cy="302.6" r="3.65"/><circle cx="675.4" cy="303.0" r="3.65"/><circle cx="676.2" cy="302.8" r="3.65"/><circle cx="677.1" cy="303.5" r="3.65"/><circle cx="678.0" cy="304.8" r="3.65"/><circle cx="678.8" cy="305.0" r="3.65"/><circle cx="679.7" cy="304.4" r="3.65"/><circle cx="680.6" cy="306.2" r="3.65"/><circle cx="681.4" cy="304.6" r="3.65"/><circle cx="682.3" cy="304.9" r="3.65"/><circle cx="683.2" cy="306.1" r="3.65"/><circle cx="684.0" cy="305.8" r="3.65"/><circle cx="684.9" cy="304.5" r="3.65"/><circle cx="685.8" cy="304.3" r="3.65"/><circle cx="686.6" cy="304.6" r="3.65"/><circle cx="687.5" cy="304.6" r="3.65"/><circle cx="688.3" cy="303.8" r="3.65"/><circle cx="689.2" cy="303.9" r="3.65"/></g>
<path d="M149.1 433.7v2M149.1 441.2v2M149.1 448.8v2M149.1 463.8v2M149.1 471.4v2M149.1 478.9v2M154.6 433.7v2M154.6 441.2v2M154.6 448.8v2M154.6 463.8v2M154.6 471.4v2M154.6 478.9v2M160.2 433.7v2M160.2 441.2v2M160.2 448.8v2M160.2 463.8v2M160.2 471.4v2M160.2 478.9v2M165.7 433.7v2M165.7 441.2v2M165.7 448.8v2M165.7 463.8v2M165.7 471.4v2M165.7 478.9v2M171.3 433.7v2M171.3 441.2v2M171.3 448.8v2M171.3 463.8v2M171.3 471.4v2M171.3 478.9v2M176.9 433.7v2M176.9 441.2v2M176.9 448.8v2M176.9 463.8v2M176.9 471.4v2M176.9 478.9v2M182.4 433.7v2M182.4 441.2v2M182.4 448.8v2M182.4 463.8v2M182.4 471.4v2M182.4 478.9v2M188.0 433.7v2M188.0 441.2v2M188.0 448.8v2M188.0 463.8v2M188.0 471.4v2M188.0 478.9v2M193.5 433.7v2M193.5 441.2v2M193.5 448.8v2M193.5 463.8v2M193.5 471.4v2M193.5 478.9v2M199.1 433.7v2M199.1 441.2v2M199.1 448.8v2M199.1 463.8v2M199.1 471.4v2M199.1 478.9v2M204.7 433.7v2M204.7 441.2v2M204.7 448.8v2M204.7 463.8v2M204.7 471.4v2M204.7 478.9v2M210.2 433.7v2M210.2 441.2v2M210.2 448.8v2M210.2 463.8v2M210.2 471.4v2M210.2 478.9v2M215.8 433.7v2M215.8 441.2v2M215.8 448.8v2M215.8 463.8v2M215.8 471.4v2M215.8 478.9v2M221.3 433.7v2M221.3 441.2v2M221.3 448.8v2M221.3 463.8v2M221.3 471.4v2M221.3 478.9v2M226.9 433.7v2M226.9 441.2v2M226.9 448.8v2M226.9 463.8v2M226.9 471.4v2M226.9 478.9v2M232.5 433.7v2M232.5 441.2v2M232.5 448.8v2M232.5 463.8v2M232.5 471.4v2M232.5 478.9v2M238.0 433.7v2M238.0 441.2v2M238.0 448.8v2M238.0 463.8v2M238.0 471.4v2M238.0 478.9v2M243.6 433.7v2M243.6 441.2v2M243.6 448.8v2M243.6 463.8v2M243.6 471.4v2M243.6 478.9v2M249.1 433.7v2M249.1 441.2v2M249.1 448.8v2M249.1 463.8v2M249.1 471.4v2M249.1 478.9v2M254.7 433.7v2M254.7 441.2v2M254.7 448.8v2M254.7 463.8v2M254.7 471.4v2M254.7 478.9v2M260.3 433.7v2M260.3 441.2v2M260.3 448.8v2M260.3 463.8v2M260.3 471.4v2M260.3 478.9v2M265.8 433.7v2M265.8 441.2v2M265.8 448.8v2M265.8 463.8v2M265.8 471.4v2M265.8 478.9v2M271.4 433.7v2M271.4 441.2v2M271.4 448.8v2M271.4 463.8v2M271.4 471.4v2M271.4 478.9v2M276.9 433.7v2M276.9 441.2v2M276.9 448.8v2M276.9 463.8v2M276.9 471.4v2M276.9 478.9v2M282.5 433.7v2M282.5 441.2v2M282.5 448.8v2M282.5 463.8v2M282.5 471.4v2M282.5 478.9v2M288.1 433.7v2M288.1 441.2v2M288.1 448.8v2M288.1 463.8v2M288.1 471.4v2M288.1 478.9v2M293.6 433.7v2M293.6 441.2v2M293.6 448.8v2M293.6 463.8v2M293.6 471.4v2M293.6 478.9v2M299.2 433.7v2M299.2 441.2v2M299.2 448.8v2M299.2 463.8v2M299.2 471.4v2M299.2 478.9v2M304.7 433.7v2M304.7 441.2v2M304.7 448.8v2M304.7 463.8v2M304.7 471.4v2M304.7 478.9v2M310.3 433.7v2M310.3 441.2v2M310.3 448.8v2M310.3 463.8v2M310.3 471.4v2M310.3 478.9v2M315.9 433.7v2M315.9 441.2v2M315.9 448.8v2M315.9 463.8v2M315.9 471.4v2M315.9 478.9v2M321.4 433.7v2M321.4 441.2v2M321.4 448.8v2M321.4 463.8v2M321.4 471.4v2M321.4 478.9v2M327.0 433.7v2M327.0 441.2v2M327.0 448.8v2M327.0 463.8v2M327.0 471.4v2M327.0 478.9v2M332.5 433.7v2M332.5 441.2v2M332.5 448.8v2M332.5 463.8v2M332.5 471.4v2M332.5 478.9v2M338.1 433.7v2M338.1 441.2v2M338.1 448.8v2M338.1 463.8v2M338.1 471.4v2M338.1 478.9v2M343.7 433.7v2M343.7 441.2v2M343.7 448.8v2M343.7 463.8v2M343.7 471.4v2M343.7 478.9v2M349.2 433.7v2M349.2 441.2v2M349.2 448.8v2M349.2 463.8v2M349.2 471.4v2M349.2 478.9v2" stroke="#c6c6c6" stroke-width="1.1" fill="none"/>
<path d="M189.2 427.2V487.4M230.7 427.2V487.4M272.3 427.2V487.4M313.8 427.2V487.4M147.7 457.3H355.3" stroke="#dedede" stroke-width="1.6" fill="none"/>
<rect x="147.7" y="427.2" width="207.6" height="60.2" fill="none" stroke="#262626" stroke-width="2.1"/>
<path d="M147.7 487.4v-3.4M147.7 427.2v3.4M189.2 487.4v-3.4M189.2 427.2v3.4M230.7 487.4v-3.4M230.7 427.2v3.4M272.3 487.4v-3.4M272.3 427.2v3.4M313.8 487.4v-3.4M313.8 427.2v3.4M355.3 487.4v-3.4M355.3 427.2v3.4M147.7 427.2h3.4M355.3 427.2h-3.4M147.7 457.3h3.4M355.3 457.3h-3.4M147.7 487.4h3.4M355.3 487.4h-3.4" stroke="#262626" stroke-width="1.5" fill="none"/>
<text x="138.4" y="434.1" text-anchor="end" font-size="18.4" fill="#262626" textLength="31.8" lengthAdjust="spacingAndGlyphs">400</text>
<text x="138.4" y="464.2" text-anchor="end" font-size="18.4" fill="#262626" textLength="31.8" lengthAdjust="spacingAndGlyphs">200</text>
<text x="138.4" y="494.3" text-anchor="end" font-size="18.4" fill="#262626" textLength="10.6" lengthAdjust="spacingAndGlyphs">0</text>
<g fill="none" stroke="#0072BD" stroke-width="2.0"><circle cx="177.9" cy="464.4" r="3.65"/><circle cx="180.4" cy="465.0" r="3.65"/><circle cx="181.7" cy="463.0" r="3.65"/><circle cx="183.0" cy="461.2" r="3.65"/><circle cx="184.3" cy="460.3" r="3.65"/><circle cx="185.6" cy="459.9" r="3.65"/><circle cx="186.9" cy="461.3" r="3.65"/><circle cx="188.2" cy="463.8" r="3.65"/><circle cx="190.1" cy="453.5" r="3.65"/><circle cx="191.4" cy="454.7" r="3.65"/><circle cx="192.7" cy="454.7" r="3.65"/><circle cx="195.2" cy="450.2" r="3.65"/><circle cx="197.0" cy="450.9" r="3.65"/><circle cx="198.7" cy="459.3" r="3.65"/><circle cx="200.4" cy="468.3" r="3.65"/><circle cx="202.3" cy="459.9" r="3.65"/><circle cx="203.9" cy="459.9" r="3.65"/><circle cx="205.5" cy="459.9" r="3.65"/><circle cx="207.2" cy="461.9" r="3.65"/><circle cx="208.8" cy="463.8" r="3.65"/><circle cx="210.4" cy="464.7" r="3.65"/><circle cx="212.0" cy="464.4" r="3.65"/><circle cx="213.6" cy="463.4" r="3.65"/><circle cx="215.2" cy="463.8" r="3.65"/><circle cx="216.5" cy="465.8" r="3.65"/><circle cx="217.8" cy="467.6" r="3.65"/><circle cx="219.7" cy="470.8" r="3.65"/><circle cx="221.6" cy="479.2" r="3.65"/><circle cx="222.9" cy="479.1" r="3.65"/><circle cx="224.2" cy="478.6" r="3.65"/><circle cx="225.5" cy="474.3" r="3.65"/><circle cx="226.8" cy="471.5" r="3.65"/><circle cx="228.4" cy="471.6" r="3.65"/><circle cx="230.0" cy="472.1" r="3.65"/><circle cx="231.3" cy="473.1" r="3.65"/><circle cx="232.6" cy="473.4" r="3.65"/><circle cx="234.5" cy="481.8" r="3.65"/><circle cx="236.2" cy="486.9" r="3.65"/><circle cx="237.9" cy="486.9" r="3.65"/><circle cx="239.7" cy="486.9" r="3.65"/><circle cx="241.4" cy="486.9" r="3.65"/><circle cx="243.1" cy="486.9" r="3.65"/><circle cx="244.9" cy="486.9" r="3.65"/><circle cx="246.6" cy="486.9" r="3.65"/><circle cx="248.4" cy="486.9" r="3.65"/><circle cx="250.1" cy="486.9" r="3.65"/><circle cx="251.8" cy="486.9" r="3.65"/><circle cx="253.6" cy="486.9" r="3.65"/><circle cx="255.3" cy="486.9" r="3.65"/><circle cx="256.9" cy="482.8" r="3.65"/><circle cx="258.6" cy="471.7" r="3.65"/><circle cx="260.0" cy="471.4" r="3.65"/><circle cx="261.3" cy="470.3" r="3.65"/><circle cx="263.5" cy="474.7" r="3.65"/><circle cx="265.7" cy="468.8" r="3.65"/><circle cx="267.9" cy="463.6" r="3.65"/><circle cx="270.1" cy="459.9" r="3.65"/><circle cx="272.0" cy="455.5" r="3.65"/><circle cx="273.8" cy="451.0" r="3.65"/><circle cx="275.3" cy="446.6" r="3.65"/><circle cx="277.0" cy="442.9" r="3.65"/><circle cx="278.6" cy="438.5" r="3.65"/><circle cx="280.4" cy="436.3" r="3.65"/><circle cx="282.2" cy="440.7" r="3.65"/><circle cx="284.2" cy="442.9" r="3.65"/><circle cx="286.0" cy="441.4" r="3.65"/><circle cx="287.9" cy="450.3" r="3.65"/><circle cx="289.6" cy="434.8" r="3.65"/><circle cx="291.6" cy="431.1" r="3.65"/><circle cx="293.8" cy="432.6" r="3.65"/><circle cx="295.3" cy="436.3" r="3.65"/><circle cx="296.7" cy="442.2" r="3.65"/><circle cx="299.0" cy="437.7" r="3.65"/><circle cx="300.4" cy="437.0" r="3.65"/><circle cx="301.9" cy="448.8" r="3.65"/><circle cx="304.1" cy="449.6" r="3.65"/><circle cx="306.3" cy="459.2" r="3.65"/><circle cx="307.8" cy="454.7" r="3.65"/><circle cx="309.3" cy="454.5" r="3.65"/><circle cx="310.8" cy="455.5" r="3.65"/><circle cx="312.2" cy="454.1" r="3.65"/><circle cx="313.7" cy="453.3" r="3.65"/><circle cx="316.0" cy="449.6" r="3.65"/><circle cx="317.6" cy="466.6" r="3.65"/><circle cx="319.2" cy="485.0" r="3.65"/><circle cx="321.1" cy="486.5" r="3.65"/><circle cx="322.6" cy="487.0" r="3.65"/><circle cx="324.1" cy="487.0" r="3.65"/><circle cx="325.6" cy="486.4" r="3.65"/><circle cx="327.0" cy="485.0" r="3.65"/><circle cx="329.3" cy="479.9" r="3.65"/><circle cx="330.9" cy="475.4" r="3.65"/><circle cx="332.6" cy="471.7" r="3.65"/><circle cx="334.0" cy="463.6" r="3.65"/><circle cx="335.6" cy="457.0" r="3.65"/><circle cx="338.1" cy="451.8" r="3.65"/><circle cx="339.4" cy="455.7" r="3.65"/><circle cx="340.7" cy="459.9" r="3.65"/><circle cx="342.4" cy="451.0" r="3.65"/><circle cx="344.0" cy="447.0" r="3.65"/><circle cx="345.6" cy="442.9" r="3.65"/></g>
<path d="M492.4 429.8v2M492.4 434.5v2M492.4 443.9v2M492.4 448.6v2M492.4 453.4v2M492.4 458.1v2M492.4 467.5v2M492.4 472.2v2M492.4 477.0v2M492.4 481.7v2M497.9 429.8v2M497.9 434.5v2M497.9 443.9v2M497.9 448.6v2M497.9 453.4v2M497.9 458.1v2M497.9 467.5v2M497.9 472.2v2M497.9 477.0v2M497.9 481.7v2M503.5 429.8v2M503.5 434.5v2M503.5 443.9v2M503.5 448.6v2M503.5 453.4v2M503.5 458.1v2M503.5 467.5v2M503.5 472.2v2M503.5 477.0v2M503.5 481.7v2M509.0 429.8v2M509.0 434.5v2M509.0 443.9v2M509.0 448.6v2M509.0 453.4v2M509.0 458.1v2M509.0 467.5v2M509.0 472.2v2M509.0 477.0v2M509.0 481.7v2M514.6 429.8v2M514.6 434.5v2M514.6 443.9v2M514.6 448.6v2M514.6 453.4v2M514.6 458.1v2M514.6 467.5v2M514.6 472.2v2M514.6 477.0v2M514.6 481.7v2M520.2 429.8v2M520.2 434.5v2M520.2 443.9v2M520.2 448.6v2M520.2 453.4v2M520.2 458.1v2M520.2 467.5v2M520.2 472.2v2M520.2 477.0v2M520.2 481.7v2M525.7 429.8v2M525.7 434.5v2M525.7 443.9v2M525.7 448.6v2M525.7 453.4v2M525.7 458.1v2M525.7 467.5v2M525.7 472.2v2M525.7 477.0v2M525.7 481.7v2M531.3 429.8v2M531.3 434.5v2M531.3 443.9v2M531.3 448.6v2M531.3 453.4v2M531.3 458.1v2M531.3 467.5v2M531.3 472.2v2M531.3 477.0v2M531.3 481.7v2M536.8 429.8v2M536.8 434.5v2M536.8 443.9v2M536.8 448.6v2M536.8 453.4v2M536.8 458.1v2M536.8 467.5v2M536.8 472.2v2M536.8 477.0v2M536.8 481.7v2M542.4 429.8v2M542.4 434.5v2M542.4 443.9v2M542.4 448.6v2M542.4 453.4v2M542.4 458.1v2M542.4 467.5v2M542.4 472.2v2M542.4 477.0v2M542.4 481.7v2M548.0 429.8v2M548.0 434.5v2M548.0 443.9v2M548.0 448.6v2M548.0 453.4v2M548.0 458.1v2M548.0 467.5v2M548.0 472.2v2M548.0 477.0v2M548.0 481.7v2M553.5 429.8v2M553.5 434.5v2M553.5 443.9v2M553.5 448.6v2M553.5 453.4v2M553.5 458.1v2M553.5 467.5v2M553.5 472.2v2M553.5 477.0v2M553.5 481.7v2M559.1 429.8v2M559.1 434.5v2M559.1 443.9v2M559.1 448.6v2M559.1 453.4v2M559.1 458.1v2M559.1 467.5v2M559.1 472.2v2M559.1 477.0v2M559.1 481.7v2M564.6 429.8v2M564.6 434.5v2M564.6 443.9v2M564.6 448.6v2M564.6 453.4v2M564.6 458.1v2M564.6 467.5v2M564.6 472.2v2M564.6 477.0v2M564.6 481.7v2M570.2 429.8v2M570.2 434.5v2M570.2 443.9v2M570.2 448.6v2M570.2 453.4v2M570.2 458.1v2M570.2 467.5v2M570.2 472.2v2M570.2 477.0v2M570.2 481.7v2M575.8 429.8v2M575.8 434.5v2M575.8 443.9v2M575.8 448.6v2M575.8 453.4v2M575.8 458.1v2M575.8 467.5v2M575.8 472.2v2M575.8 477.0v2M575.8 481.7v2M581.3 429.8v2M581.3 434.5v2M581.3 443.9v2M581.3 448.6v2M581.3 453.4v2M581.3 458.1v2M581.3 467.5v2M581.3 472.2v2M581.3 477.0v2M581.3 481.7v2M586.9 429.8v2M586.9 434.5v2M586.9 443.9v2M586.9 448.6v2M586.9 453.4v2M586.9 458.1v2M586.9 467.5v2M586.9 472.2v2M586.9 477.0v2M586.9 481.7v2M592.4 429.8v2M592.4 434.5v2M592.4 443.9v2M592.4 448.6v2M592.4 453.4v2M592.4 458.1v2M592.4 467.5v2M592.4 472.2v2M592.4 477.0v2M592.4 481.7v2M598.0 429.8v2M598.0 434.5v2M598.0 443.9v2M598.0 448.6v2M598.0 453.4v2M598.0 458.1v2M598.0 467.5v2M598.0 472.2v2M598.0 477.0v2M598.0 481.7v2M603.6 429.8v2M603.6 434.5v2M603.6 443.9v2M603.6 448.6v2M603.6 453.4v2M603.6 458.1v2M603.6 467.5v2M603.6 472.2v2M603.6 477.0v2M603.6 481.7v2M609.1 429.8v2M609.1 434.5v2M609.1 443.9v2M609.1 448.6v2M609.1 453.4v2M609.1 458.1v2M609.1 467.5v2M609.1 472.2v2M609.1 477.0v2M609.1 481.7v2M614.7 429.8v2M614.7 434.5v2M614.7 443.9v2M614.7 448.6v2M614.7 453.4v2M614.7 458.1v2M614.7 467.5v2M614.7 472.2v2M614.7 477.0v2M614.7 481.7v2M620.2 429.8v2M620.2 434.5v2M620.2 443.9v2M620.2 448.6v2M620.2 453.4v2M620.2 458.1v2M620.2 467.5v2M620.2 472.2v2M620.2 477.0v2M620.2 481.7v2M625.8 429.8v2M625.8 434.5v2M625.8 443.9v2M625.8 448.6v2M625.8 453.4v2M625.8 458.1v2M625.8 467.5v2M625.8 472.2v2M625.8 477.0v2M625.8 481.7v2M631.4 429.8v2M631.4 434.5v2M631.4 443.9v2M631.4 448.6v2M631.4 453.4v2M631.4 458.1v2M631.4 467.5v2M631.4 472.2v2M631.4 477.0v2M631.4 481.7v2M636.9 429.8v2M636.9 434.5v2M636.9 443.9v2M636.9 448.6v2M636.9 453.4v2M636.9 458.1v2M636.9 467.5v2M636.9 472.2v2M636.9 477.0v2M636.9 481.7v2M642.5 429.8v2M642.5 434.5v2M642.5 443.9v2M642.5 448.6v2M642.5 453.4v2M642.5 458.1v2M642.5 467.5v2M642.5 472.2v2M642.5 477.0v2M642.5 481.7v2M648.0 429.8v2M648.0 434.5v2M648.0 443.9v2M648.0 448.6v2M648.0 453.4v2M648.0 458.1v2M648.0 467.5v2M648.0 472.2v2M648.0 477.0v2M648.0 481.7v2M653.6 429.8v2M653.6 434.5v2M653.6 443.9v2M653.6 448.6v2M653.6 453.4v2M653.6 458.1v2M653.6 467.5v2M653.6 472.2v2M653.6 477.0v2M653.6 481.7v2M659.2 429.8v2M659.2 434.5v2M659.2 443.9v2M659.2 448.6v2M659.2 453.4v2M659.2 458.1v2M659.2 467.5v2M659.2 472.2v2M659.2 477.0v2M659.2 481.7v2M664.7 429.8v2M664.7 434.5v2M664.7 443.9v2M664.7 448.6v2M664.7 453.4v2M664.7 458.1v2M664.7 467.5v2M664.7 472.2v2M664.7 477.0v2M664.7 481.7v2M670.3 429.8v2M670.3 434.5v2M670.3 443.9v2M670.3 448.6v2M670.3 453.4v2M670.3 458.1v2M670.3 467.5v2M670.3 472.2v2M670.3 477.0v2M670.3 481.7v2M675.8 429.8v2M675.8 434.5v2M675.8 443.9v2M675.8 448.6v2M675.8 453.4v2M675.8 458.1v2M675.8 467.5v2M675.8 472.2v2M675.8 477.0v2M675.8 481.7v2M681.4 429.8v2M681.4 434.5v2M681.4 443.9v2M681.4 448.6v2M681.4 453.4v2M681.4 458.1v2M681.4 467.5v2M681.4 472.2v2M681.4 477.0v2M681.4 481.7v2M687.0 429.8v2M687.0 434.5v2M687.0 443.9v2M687.0 448.6v2M687.0 453.4v2M687.0 458.1v2M687.0 467.5v2M687.0 472.2v2M687.0 477.0v2M687.0 481.7v2M692.5 429.8v2M692.5 434.5v2M692.5 443.9v2M692.5 448.6v2M692.5 453.4v2M692.5 458.1v2M692.5 467.5v2M692.5 472.2v2M692.5 477.0v2M692.5 481.7v2" stroke="#c6c6c6" stroke-width="1.1" fill="none"/>
<path d="M532.5 427.2V487.4M574.0 427.2V487.4M615.6 427.2V487.4M657.1 427.2V487.4M491.0 440.2H698.6M491.0 463.8H698.6" stroke="#dedede" stroke-width="1.6" fill="none"/>
<rect x="491.0" y="427.2" width="207.6" height="60.2" fill="none" stroke="#262626" stroke-width="2.1"/>
<path d="M491.0 487.4v-3.4M491.0 427.2v3.4M532.5 487.4v-3.4M532.5 427.2v3.4M574.0 487.4v-3.4M574.0 427.2v3.4M615.6 487.4v-3.4M615.6 427.2v3.4M657.1 487.4v-3.4M657.1 427.2v3.4M698.6 487.4v-3.4M698.6 427.2v3.4M491.0 440.2h3.4M698.6 440.2h-3.4M491.0 463.8h3.4M698.6 463.8h-3.4M491.0 487.4h3.4M698.6 487.4h-3.4" stroke="#262626" stroke-width="1.5" fill="none"/>
<text x="481.7" y="448.1" text-anchor="end" font-size="18.4" fill="#262626" textLength="31.8" lengthAdjust="spacingAndGlyphs">200</text>
<text x="481.7" y="471.1" text-anchor="end" font-size="18.4" fill="#262626" textLength="31.8" lengthAdjust="spacingAndGlyphs">100</text>
<text x="481.7" y="494.3" text-anchor="end" font-size="18.4" fill="#262626" textLength="10.6" lengthAdjust="spacingAndGlyphs">0</text>
<g fill="none" stroke="#0072BD" stroke-width="2.0"><circle cx="521.5" cy="475.4" r="3.65"/><circle cx="523.2" cy="479.5" r="3.65"/><circle cx="525.0" cy="483.0" r="3.65"/><circle cx="526.7" cy="486.0" r="3.65"/><circle cx="528.4" cy="487.0" r="3.65"/><circle cx="530.1" cy="487.0" r="3.65"/><circle cx="531.9" cy="487.0" r="3.65"/><circle cx="533.6" cy="487.0" r="3.65"/><circle cx="535.3" cy="487.0" r="3.65"/><circle cx="537.1" cy="487.0" r="3.65"/><circle cx="538.8" cy="487.0" r="3.65"/><circle cx="540.6" cy="487.0" r="3.65"/><circle cx="542.3" cy="487.0" r="3.65"/><circle cx="544.1" cy="477.4" r="3.65"/><circle cx="545.8" cy="474.0" r="3.65"/><circle cx="547.5" cy="469.9" r="3.65"/><circle cx="549.2" cy="466.4" r="3.65"/><circle cx="551.0" cy="463.7" r="3.65"/><circle cx="553.0" cy="458.9" r="3.65"/><circle cx="555.1" cy="456.2" r="3.65"/><circle cx="556.4" cy="456.2" r="3.65"/><circle cx="557.8" cy="461.6" r="3.65"/><circle cx="559.9" cy="463.7" r="3.65"/><circle cx="561.9" cy="463.0" r="3.65"/><circle cx="564.0" cy="465.1" r="3.65"/><circle cx="565.4" cy="473.3" r="3.65"/><circle cx="567.0" cy="480.8" r="3.65"/><circle cx="568.7" cy="485.5" r="3.65"/><circle cx="570.5" cy="487.0" r="3.65"/><circle cx="572.1" cy="487.0" r="3.65"/><circle cx="573.7" cy="487.0" r="3.65"/><circle cx="575.3" cy="487.0" r="3.65"/><circle cx="577.0" cy="487.0" r="3.65"/><circle cx="578.6" cy="487.0" r="3.65"/><circle cx="580.2" cy="487.0" r="3.65"/><circle cx="581.8" cy="487.0" r="3.65"/><circle cx="583.9" cy="484.3" r="3.65"/><circle cx="585.5" cy="482.0" r="3.65"/><circle cx="586.4" cy="461.6" r="3.65"/><circle cx="588.0" cy="441.1" r="3.65"/><circle cx="589.7" cy="427.3" r="3.65"/><circle cx="591.4" cy="435.6" r="3.65"/><circle cx="593.2" cy="436.9" r="3.65"/><circle cx="594.9" cy="440.4" r="3.65"/><circle cx="596.6" cy="452.7" r="3.65"/><circle cx="598.3" cy="461.6" r="3.65"/><circle cx="600.0" cy="466.5" r="3.65"/><circle cx="601.8" cy="471.0" r="3.65"/><circle cx="603.5" cy="475.5" r="3.65"/><circle cx="605.2" cy="480.0" r="3.65"/><circle cx="606.9" cy="483.5" r="3.65"/><circle cx="608.7" cy="486.2" r="3.65"/><circle cx="610.4" cy="487.0" r="3.65"/><circle cx="612.1" cy="487.0" r="3.65"/><circle cx="613.9" cy="487.0" r="3.65"/><circle cx="615.6" cy="487.0" r="3.65"/><circle cx="617.3" cy="487.0" r="3.65"/><circle cx="619.1" cy="487.0" r="3.65"/><circle cx="620.8" cy="487.0" r="3.65"/><circle cx="622.5" cy="487.0" r="3.65"/><circle cx="624.3" cy="487.0" r="3.65"/><circle cx="626.0" cy="487.0" r="3.65"/><circle cx="627.7" cy="475.4" r="3.65"/><circle cx="629.5" cy="461.6" r="3.65"/><circle cx="631.2" cy="463.0" r="3.65"/><circle cx="632.9" cy="465.1" r="3.65"/><circle cx="635.0" cy="466.4" r="3.65"/><circle cx="637.0" cy="467.1" r="3.65"/><circle cx="639.1" cy="465.1" r="3.65"/><circle cx="641.2" cy="458.9" r="3.65"/><circle cx="643.2" cy="457.5" r="3.65"/><circle cx="644.6" cy="458.2" r="3.65"/><circle cx="646.6" cy="465.8" r="3.65"/><circle cx="648.3" cy="471.2" r="3.65"/><circle cx="650.0" cy="478.1" r="3.65"/><circle cx="651.7" cy="483.6" r="3.65"/><circle cx="653.5" cy="487.0" r="3.65"/><circle cx="655.2" cy="487.0" r="3.65"/><circle cx="657.0" cy="487.0" r="3.65"/><circle cx="658.7" cy="487.0" r="3.65"/><circle cx="660.4" cy="487.0" r="3.65"/><circle cx="662.1" cy="487.0" r="3.65"/><circle cx="663.8" cy="487.0" r="3.65"/><circle cx="665.6" cy="487.0" r="3.65"/><circle cx="667.3" cy="487.0" r="3.65"/><circle cx="669.1" cy="469.2" r="3.65"/><circle cx="670.8" cy="452.7" r="3.65"/><circle cx="672.5" cy="437.6" r="3.65"/><circle cx="674.3" cy="433.5" r="3.65"/><circle cx="676.0" cy="430.1" r="3.65"/><circle cx="677.7" cy="432.8" r="3.65"/><circle cx="679.5" cy="443.8" r="3.65"/><circle cx="681.2" cy="449.3" r="3.65"/><circle cx="682.9" cy="455.5" r="3.65"/><circle cx="684.7" cy="462.3" r="3.65"/><circle cx="686.4" cy="470.0" r="3.65"/><circle cx="688.1" cy="481.5" r="3.65"/></g>
<text transform="translate(160.6,509.4) rotate(-45)" text-anchor="end" font-size="18.4" fill="#262626" textLength="50.7" lengthAdjust="spacingAndGlyphs">09/27</text>
<text transform="translate(202.1,509.4) rotate(-45)" text-anchor="end" font-size="18.4" fill="#262626" textLength="50.7" lengthAdjust="spacingAndGlyphs">09/28</text>
<text transform="translate(243.6,509.4) rotate(-45)" text-anchor="end" font-size="18.4" fill="#262626" textLength="50.7" lengthAdjust="spacingAndGlyphs">09/29</text>
<text transform="translate(285.2,509.4) rotate(-45)" text-anchor="end" font-size="18.4" fill="#262626" textLength="50.7" lengthAdjust="spacingAndGlyphs">09/30</text>
<text transform="translate(326.7,509.4) rotate(-45)" text-anchor="end" font-size="18.4" fill="#262626" textLength="50.7" lengthAdjust="spacingAndGlyphs">10/01</text>
<text transform="translate(368.2,509.4) rotate(-45)" text-anchor="end" font-size="18.4" fill="#262626" textLength="50.7" lengthAdjust="spacingAndGlyphs">10/02</text>
<text x="250.7" y="575.6" text-anchor="middle" font-size="20.2" fill="#262626" textLength="51.0" lengthAdjust="spacingAndGlyphs">Time</text>
<text transform="translate(503.9,509.4) rotate(-45)" text-anchor="end" font-size="18.4" fill="#262626" textLength="50.7" lengthAdjust="spacingAndGlyphs">09/27</text>
<text transform="translate(545.4,509.4) rotate(-45)" text-anchor="end" font-size="18.4" fill="#262626" textLength="50.7" lengthAdjust="spacingAndGlyphs">09/28</text>
<text transform="translate(586.9,509.4) rotate(-45)" text-anchor="end" font-size="18.4" fill="#262626" textLength="50.7" lengthAdjust="spacingAndGlyphs">09/29</text>
<text transform="translate(628.5,509.4) rotate(-45)" text-anchor="end" font-size="18.4" fill="#262626" textLength="50.7" lengthAdjust="spacingAndGlyphs">09/30</text>
<text transform="translate(670.0,509.4) rotate(-45)" text-anchor="end" font-size="18.4" fill="#262626" textLength="50.7" lengthAdjust="spacingAndGlyphs">10/01</text>
<text transform="translate(711.5,509.4) rotate(-45)" text-anchor="end" font-size="18.4" fill="#262626" textLength="50.7" lengthAdjust="spacingAndGlyphs">10/02</text>
<text x="594.0" y="575.6" text-anchor="middle" font-size="20.2" fill="#262626" textLength="51.0" lengthAdjust="spacingAndGlyphs">Time</text>
<text x="251.5" y="31.2" text-anchor="middle" font-size="19.8" font-weight="bold" fill="#000" textLength="181.6" lengthAdjust="spacingAndGlyphs">Figure 1 medium</text>
<text transform="translate(84.6,74.4) rotate(-90)" text-anchor="middle" font-size="19.8" fill="#262626" textLength="101.2" lengthAdjust="spacingAndGlyphs">PRESSURE</text>
<text transform="translate(438.2,74.4) rotate(-90)" text-anchor="middle" font-size="19.8" fill="#262626" textLength="64.6" lengthAdjust="spacingAndGlyphs">THETA</text>
<text transform="translate(445.2,202.2) rotate(-90)" text-anchor="middle" font-size="19.8" fill="#262626" textLength="95.8" lengthAdjust="spacingAndGlyphs">RAINFALL</text>
<text transform="translate(85.6,330.0) rotate(-90)" text-anchor="middle" font-size="19.8" fill="#262626" textLength="107.2" lengthAdjust="spacingAndGlyphs">MIXDEPTH</text>
<text transform="translate(460.0,329.4) rotate(-90)" text-anchor="middle" font-size="19.8" fill="#262626" textLength="109.2" lengthAdjust="spacingAndGlyphs">H2OMIXRA</text>
<text transform="translate(85.9,245.4) rotate(-90)" text-anchor="start" font-size="19.8" fill="#262626" textLength="33.5" lengthAdjust="spacingAndGlyphs">AIR</text>
<text transform="translate(95.8,211.3) rotate(-90)" text-anchor="start" font-size="15.4" fill="#262626" textLength="10.2" lengthAdjust="spacingAndGlyphs">T</text>
<text transform="translate(85.9,200.2) rotate(-90)" text-anchor="start" font-size="19.8" fill="#262626" textLength="43.2" lengthAdjust="spacingAndGlyphs">EMP</text>
<text transform="translate(85.9,502.4) rotate(-90)" text-anchor="start" font-size="19.8" fill="#262626" textLength="49.4" lengthAdjust="spacingAndGlyphs">TERR</text>
<text transform="translate(96.2,450.4) rotate(-90)" text-anchor="start" font-size="15.4" fill="#262626" textLength="14.5" lengthAdjust="spacingAndGlyphs">M</text>
<text transform="translate(85.9,434.8) rotate(-90)" text-anchor="start" font-size="19.8" fill="#262626" textLength="22.8" lengthAdjust="spacingAndGlyphs">SL</text>
<text transform="translate(398.8,502.8) rotate(-90)" text-anchor="start" font-size="19.8" fill="#262626" textLength="40.8" lengthAdjust="spacingAndGlyphs">SUN</text>
<text transform="translate(408.1,458.6) rotate(-90)" text-anchor="start" font-size="15.4" fill="#262626" textLength="10.0" lengthAdjust="spacingAndGlyphs">F</text>
<text transform="translate(398.8,449.0) rotate(-90)" text-anchor="start" font-size="19.8" fill="#262626" textLength="38.2" lengthAdjust="spacingAndGlyphs">LUX</text>
</svg>
</body></html>
